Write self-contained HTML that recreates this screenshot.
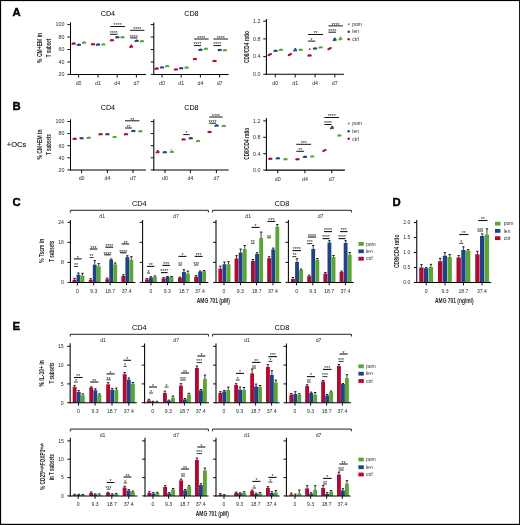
<!DOCTYPE html>
<html lang="en">
<head>
<meta charset="utf-8">
<title>Figure: T-cell subsets with AMG 701, pom, len</title>
<style>
html,body{margin:0;padding:0;background:#fff;}
body{width:520px;height:525px;overflow:hidden;}
svg{display:block;font-family:"Liberation Sans",Arial,Helvetica,sans-serif;}
</style>
</head>
<body>
<svg width="520" height="525" viewBox="0 0 520 525">
<rect x="0" y="0" width="520" height="525" fill="#000"/>
<rect x="1.1" y="1.1" width="518" height="522.7" fill="#fff"/>
<text x="12.4" y="16.3" font-size="11.3" text-anchor="start" fill="#000" font-weight="bold" stroke="#000" stroke-width="0.45">A</text>
<text x="12.6" y="110.3" font-size="11.3" text-anchor="start" fill="#000" font-weight="bold" stroke="#000" stroke-width="0.45">B</text>
<text x="12.6" y="205.9" font-size="11.3" text-anchor="start" fill="#000" font-weight="bold" stroke="#000" stroke-width="0.45">C</text>
<text x="392.6" y="206.4" font-size="11.3" text-anchor="start" fill="#000" font-weight="bold" stroke="#000" stroke-width="0.45">D</text>
<text x="12.6" y="329.7" font-size="11.3" text-anchor="start" fill="#000" font-weight="bold" stroke="#000" stroke-width="0.45">E</text>
<text x="6.8" y="147.2" font-size="7.5" text-anchor="start" fill="#111" stroke="#111" stroke-width="0.12">+OCs</text>
<text x="107.9" y="16.3" font-size="7.2" text-anchor="middle" fill="#000">CD4</text>
<line x1="70.5" y1="22.4" x2="70.5" y2="74.93" stroke="#000" stroke-width="1.05" stroke-linecap="butt"/>
<line x1="69.97" y1="74.4" x2="146" y2="74.4" stroke="#000" stroke-width="1.05" stroke-linecap="butt"/>
<line x1="67.38" y1="24.6" x2="70.5" y2="24.6" stroke="#000" stroke-width="0.95" stroke-linecap="butt"/>
<text x="64.45" y="26.4" font-size="5.3" text-anchor="end" fill="#2b2b2b">100</text>
<line x1="67.38" y1="37.05" x2="70.5" y2="37.05" stroke="#000" stroke-width="0.95" stroke-linecap="butt"/>
<text x="64.45" y="38.85" font-size="5.3" text-anchor="end" fill="#2b2b2b">80</text>
<line x1="67.38" y1="49.5" x2="70.5" y2="49.5" stroke="#000" stroke-width="0.95" stroke-linecap="butt"/>
<text x="64.45" y="51.3" font-size="5.3" text-anchor="end" fill="#2b2b2b">60</text>
<line x1="67.38" y1="61.95" x2="70.5" y2="61.95" stroke="#000" stroke-width="0.95" stroke-linecap="butt"/>
<text x="64.45" y="63.75" font-size="5.3" text-anchor="end" fill="#2b2b2b">40</text>
<line x1="67.38" y1="74.4" x2="70.5" y2="74.4" stroke="#000" stroke-width="0.95" stroke-linecap="butt"/>
<text x="64.45" y="76.2" font-size="5.3" text-anchor="end" fill="#2b2b2b">20</text>
<line x1="78.6" y1="74.4" x2="78.6" y2="77.53" stroke="#000" stroke-width="0.95" stroke-linecap="butt"/>
<text x="78.6" y="84.8" font-size="5.3" text-anchor="middle" fill="#2b2b2b">d0</text>
<line x1="98" y1="74.4" x2="98" y2="77.53" stroke="#000" stroke-width="0.95" stroke-linecap="butt"/>
<text x="98" y="84.8" font-size="5.3" text-anchor="middle" fill="#2b2b2b">d1</text>
<line x1="117.2" y1="74.4" x2="117.2" y2="77.53" stroke="#000" stroke-width="0.95" stroke-linecap="butt"/>
<text x="117.2" y="84.8" font-size="5.3" text-anchor="middle" fill="#2b2b2b">d4</text>
<line x1="136.4" y1="74.4" x2="136.4" y2="77.53" stroke="#000" stroke-width="0.95" stroke-linecap="butt"/>
<text x="136.4" y="84.8" font-size="5.3" text-anchor="middle" fill="#2b2b2b">d7</text>
<circle cx="72.5" cy="43.8" r="1.12" fill="#b00a32"/>
<circle cx="73.6" cy="43.45" r="1.12" fill="#b00a32"/>
<circle cx="74.7" cy="43.7" r="1.12" fill="#b00a32"/>
<circle cx="77.7" cy="45" r="1.12" fill="#204287"/>
<circle cx="78.8" cy="44.65" r="1.12" fill="#204287"/>
<circle cx="79.9" cy="44.9" r="1.12" fill="#204287"/>
<circle cx="82.9" cy="42.8" r="1.12" fill="#59a636"/>
<circle cx="84" cy="42.45" r="1.12" fill="#59a636"/>
<circle cx="85.1" cy="42.7" r="1.12" fill="#59a636"/>
<circle cx="91.9" cy="44.4" r="1.12" fill="#b00a32"/>
<circle cx="93" cy="44.05" r="1.12" fill="#b00a32"/>
<circle cx="94.1" cy="44.3" r="1.12" fill="#b00a32"/>
<circle cx="96.9" cy="44.8" r="1.12" fill="#204287"/>
<circle cx="98" cy="44.45" r="1.12" fill="#204287"/>
<circle cx="99.1" cy="44.7" r="1.12" fill="#204287"/>
<circle cx="102.3" cy="44.6" r="1.12" fill="#59a636"/>
<circle cx="103.4" cy="44.25" r="1.12" fill="#59a636"/>
<circle cx="104.5" cy="44.5" r="1.12" fill="#59a636"/>
<circle cx="110.9" cy="40.4" r="1.12" fill="#b00a32"/>
<circle cx="112" cy="40.05" r="1.12" fill="#b00a32"/>
<circle cx="113.1" cy="40.3" r="1.12" fill="#b00a32"/>
<circle cx="116.3" cy="37.4" r="1.12" fill="#204287"/>
<circle cx="117.4" cy="37.05" r="1.12" fill="#204287"/>
<circle cx="118.5" cy="37.3" r="1.12" fill="#204287"/>
<circle cx="121.5" cy="37.4" r="1.12" fill="#59a636"/>
<circle cx="122.6" cy="37.05" r="1.12" fill="#59a636"/>
<circle cx="123.7" cy="37.3" r="1.12" fill="#59a636"/>
<circle cx="130.3" cy="47.1" r="1.12" fill="#b00a32"/>
<circle cx="131.3" cy="45.6" r="1.12" fill="#b00a32"/>
<circle cx="132.1" cy="46.8" r="1.12" fill="#b00a32"/>
<circle cx="135.5" cy="41" r="1.12" fill="#204287"/>
<circle cx="136.6" cy="40.65" r="1.12" fill="#204287"/>
<circle cx="137.7" cy="40.9" r="1.12" fill="#204287"/>
<circle cx="140.9" cy="41.4" r="1.12" fill="#59a636"/>
<circle cx="142" cy="41.05" r="1.12" fill="#59a636"/>
<circle cx="143.1" cy="41.3" r="1.12" fill="#59a636"/>
<line x1="110" y1="34.3" x2="117.5" y2="34.3" stroke="#161616" stroke-width="1" stroke-linecap="butt"/>
<text x="113.75" y="35.15" font-size="5.2" text-anchor="middle" fill="#222">****</text>
<line x1="110.3" y1="26.5" x2="125" y2="26.5" stroke="#161616" stroke-width="1" stroke-linecap="butt"/>
<text x="117.65" y="27.35" font-size="5.2" text-anchor="middle" fill="#222">****</text>
<line x1="130.1" y1="37.9" x2="137.4" y2="37.9" stroke="#161616" stroke-width="1" stroke-linecap="butt"/>
<text x="133.75" y="38.75" font-size="5.2" text-anchor="middle" fill="#222">****</text>
<line x1="130.1" y1="30.3" x2="144.4" y2="30.3" stroke="#161616" stroke-width="1" stroke-linecap="butt"/>
<text x="137.25" y="31.15" font-size="5.2" text-anchor="middle" fill="#222">****</text>
<text transform="translate(41.6 47.9) rotate(-90)" x="0" y="0" font-size="6.4" text-anchor="middle" fill="#262626" font-weight="bold" textLength="30" lengthAdjust="spacingAndGlyphs">% CM+EM in</text>
<text transform="translate(50.9 47.9) rotate(-90)" x="0" y="0" font-size="6.4" text-anchor="middle" fill="#262626" font-weight="bold" textLength="18.5" lengthAdjust="spacingAndGlyphs">T subset</text>
<text x="191.4" y="16.3" font-size="7.2" text-anchor="middle" fill="#000">CD8</text>
<line x1="153.8" y1="22.4" x2="153.8" y2="74.93" stroke="#000" stroke-width="1.05" stroke-linecap="butt"/>
<line x1="153.28" y1="74.4" x2="228.6" y2="74.4" stroke="#000" stroke-width="1.05" stroke-linecap="butt"/>
<line x1="150.68" y1="24.6" x2="153.8" y2="24.6" stroke="#000" stroke-width="0.95" stroke-linecap="butt"/>
<line x1="150.68" y1="37.05" x2="153.8" y2="37.05" stroke="#000" stroke-width="0.95" stroke-linecap="butt"/>
<line x1="150.68" y1="49.5" x2="153.8" y2="49.5" stroke="#000" stroke-width="0.95" stroke-linecap="butt"/>
<line x1="150.68" y1="61.95" x2="153.8" y2="61.95" stroke="#000" stroke-width="0.95" stroke-linecap="butt"/>
<line x1="150.68" y1="74.4" x2="153.8" y2="74.4" stroke="#000" stroke-width="0.95" stroke-linecap="butt"/>
<line x1="162" y1="74.4" x2="162" y2="77.53" stroke="#000" stroke-width="0.95" stroke-linecap="butt"/>
<text x="162" y="84.8" font-size="5.3" text-anchor="middle" fill="#2b2b2b">d0</text>
<line x1="181.2" y1="74.4" x2="181.2" y2="77.53" stroke="#000" stroke-width="0.95" stroke-linecap="butt"/>
<text x="181.2" y="84.8" font-size="5.3" text-anchor="middle" fill="#2b2b2b">d1</text>
<line x1="200.4" y1="74.4" x2="200.4" y2="77.53" stroke="#000" stroke-width="0.95" stroke-linecap="butt"/>
<text x="200.4" y="84.8" font-size="5.3" text-anchor="middle" fill="#2b2b2b">d4</text>
<line x1="219.6" y1="74.4" x2="219.6" y2="77.53" stroke="#000" stroke-width="0.95" stroke-linecap="butt"/>
<text x="219.6" y="84.8" font-size="5.3" text-anchor="middle" fill="#2b2b2b">d7</text>
<circle cx="155.5" cy="68.8" r="1.12" fill="#b00a32"/>
<circle cx="156.6" cy="68.45" r="1.12" fill="#b00a32"/>
<circle cx="157.7" cy="68.7" r="1.12" fill="#b00a32"/>
<circle cx="160.9" cy="67.6" r="1.12" fill="#204287"/>
<circle cx="162" cy="67.25" r="1.12" fill="#204287"/>
<circle cx="163.1" cy="67.5" r="1.12" fill="#204287"/>
<circle cx="166.1" cy="66.4" r="1.12" fill="#59a636"/>
<circle cx="167.2" cy="66.05" r="1.12" fill="#59a636"/>
<circle cx="168.3" cy="66.3" r="1.12" fill="#59a636"/>
<circle cx="174.9" cy="69.6" r="1.12" fill="#b00a32"/>
<circle cx="176" cy="69.25" r="1.12" fill="#b00a32"/>
<circle cx="177.1" cy="69.5" r="1.12" fill="#b00a32"/>
<circle cx="180.1" cy="68.4" r="1.12" fill="#204287"/>
<circle cx="181.2" cy="68.05" r="1.12" fill="#204287"/>
<circle cx="182.3" cy="68.3" r="1.12" fill="#204287"/>
<circle cx="185.5" cy="67.8" r="1.12" fill="#59a636"/>
<circle cx="186.6" cy="67.45" r="1.12" fill="#59a636"/>
<circle cx="187.7" cy="67.7" r="1.12" fill="#59a636"/>
<circle cx="193.9" cy="59.2" r="1.12" fill="#b00a32"/>
<circle cx="195" cy="58.85" r="1.12" fill="#b00a32"/>
<circle cx="196.1" cy="59.1" r="1.12" fill="#b00a32"/>
<circle cx="199.3" cy="50" r="1.12" fill="#204287"/>
<circle cx="200.4" cy="49.65" r="1.12" fill="#204287"/>
<circle cx="201.5" cy="49.9" r="1.12" fill="#204287"/>
<circle cx="204.7" cy="49" r="1.12" fill="#59a636"/>
<circle cx="205.8" cy="48.65" r="1.12" fill="#59a636"/>
<circle cx="206.9" cy="48.9" r="1.12" fill="#59a636"/>
<circle cx="213.5" cy="61.2" r="1.12" fill="#b00a32"/>
<circle cx="214.6" cy="60.85" r="1.12" fill="#b00a32"/>
<circle cx="215.7" cy="61.1" r="1.12" fill="#b00a32"/>
<circle cx="218.7" cy="50.2" r="1.12" fill="#204287"/>
<circle cx="219.8" cy="49.85" r="1.12" fill="#204287"/>
<circle cx="220.9" cy="50.1" r="1.12" fill="#204287"/>
<circle cx="223.9" cy="50.4" r="1.12" fill="#59a636"/>
<circle cx="225" cy="50.05" r="1.12" fill="#59a636"/>
<circle cx="226.1" cy="50.3" r="1.12" fill="#59a636"/>
<line x1="194" y1="45.6" x2="201" y2="45.6" stroke="#161616" stroke-width="1" stroke-linecap="butt"/>
<text x="197.5" y="46.45" font-size="5.2" text-anchor="middle" fill="#222">****</text>
<line x1="194" y1="39" x2="208.6" y2="39" stroke="#161616" stroke-width="1" stroke-linecap="butt"/>
<text x="201.3" y="39.85" font-size="5.2" text-anchor="middle" fill="#222">****</text>
<line x1="213.4" y1="45.6" x2="221" y2="45.6" stroke="#161616" stroke-width="1" stroke-linecap="butt"/>
<text x="217.2" y="46.45" font-size="5.2" text-anchor="middle" fill="#222">****</text>
<line x1="213.4" y1="39" x2="228" y2="39" stroke="#161616" stroke-width="1" stroke-linecap="butt"/>
<text x="220.7" y="39.85" font-size="5.2" text-anchor="middle" fill="#222">****</text>
<text transform="translate(249.3 47) rotate(-90)" x="0" y="0" font-size="6.4" text-anchor="middle" fill="#262626" font-weight="bold" textLength="32" lengthAdjust="spacingAndGlyphs">CD8/CD4 ratio</text>
<line x1="266.4" y1="18.9" x2="266.4" y2="74.83" stroke="#000" stroke-width="1.05" stroke-linecap="butt"/>
<line x1="265.88" y1="74.3" x2="344" y2="74.3" stroke="#000" stroke-width="1.05" stroke-linecap="butt"/>
<line x1="263.27" y1="21.2" x2="266.4" y2="21.2" stroke="#000" stroke-width="0.95" stroke-linecap="butt"/>
<text x="260.35" y="23" font-size="5.3" text-anchor="end" fill="#2b2b2b">1.2</text>
<line x1="263.27" y1="38.9" x2="266.4" y2="38.9" stroke="#000" stroke-width="0.95" stroke-linecap="butt"/>
<text x="260.35" y="40.7" font-size="5.3" text-anchor="end" fill="#2b2b2b">0.8</text>
<line x1="263.27" y1="56.6" x2="266.4" y2="56.6" stroke="#000" stroke-width="0.95" stroke-linecap="butt"/>
<text x="260.35" y="58.4" font-size="5.3" text-anchor="end" fill="#2b2b2b">0.4</text>
<line x1="263.27" y1="74.3" x2="266.4" y2="74.3" stroke="#000" stroke-width="0.95" stroke-linecap="butt"/>
<text x="260.35" y="76.1" font-size="5.3" text-anchor="end" fill="#2b2b2b">0.0</text>
<line x1="275.3" y1="74.3" x2="275.3" y2="77.42" stroke="#000" stroke-width="0.95" stroke-linecap="butt"/>
<text x="275.3" y="84.7" font-size="5.3" text-anchor="middle" fill="#2b2b2b">d0</text>
<line x1="295.2" y1="74.3" x2="295.2" y2="77.42" stroke="#000" stroke-width="0.95" stroke-linecap="butt"/>
<text x="295.2" y="84.7" font-size="5.3" text-anchor="middle" fill="#2b2b2b">d1</text>
<line x1="315.1" y1="74.3" x2="315.1" y2="77.42" stroke="#000" stroke-width="0.95" stroke-linecap="butt"/>
<text x="315.1" y="84.7" font-size="5.3" text-anchor="middle" fill="#2b2b2b">d4</text>
<line x1="334.8" y1="74.3" x2="334.8" y2="77.42" stroke="#000" stroke-width="0.95" stroke-linecap="butt"/>
<text x="334.8" y="84.7" font-size="5.3" text-anchor="middle" fill="#2b2b2b">d7</text>
<circle cx="268.7" cy="55.15" r="1.12" fill="#b00a32"/>
<circle cx="269.8" cy="54.6" r="1.12" fill="#b00a32"/>
<circle cx="270.9" cy="54.05" r="1.12" fill="#b00a32"/>
<circle cx="274.4" cy="51" r="1.12" fill="#204287"/>
<circle cx="275.5" cy="50.65" r="1.12" fill="#204287"/>
<circle cx="276.6" cy="50.9" r="1.12" fill="#204287"/>
<circle cx="279.7" cy="50" r="1.12" fill="#59a636"/>
<circle cx="280.8" cy="49.65" r="1.12" fill="#59a636"/>
<circle cx="281.9" cy="49.9" r="1.12" fill="#59a636"/>
<circle cx="288.8" cy="55.15" r="1.12" fill="#b00a32"/>
<circle cx="289.9" cy="54.6" r="1.12" fill="#b00a32"/>
<circle cx="291" cy="54.05" r="1.12" fill="#b00a32"/>
<circle cx="294.3" cy="50.6" r="1.12" fill="#204287"/>
<circle cx="295.3" cy="49.1" r="1.12" fill="#204287"/>
<circle cx="296.1" cy="50.3" r="1.12" fill="#204287"/>
<circle cx="299.6" cy="50" r="1.12" fill="#59a636"/>
<circle cx="300.7" cy="49.65" r="1.12" fill="#59a636"/>
<circle cx="301.8" cy="49.9" r="1.12" fill="#59a636"/>
<circle cx="308.5" cy="55.7" r="1.12" fill="#b00a32"/>
<circle cx="309.6" cy="55.35" r="1.12" fill="#b00a32"/>
<circle cx="310.7" cy="55.6" r="1.12" fill="#b00a32"/>
<circle cx="314" cy="48.7" r="1.12" fill="#204287"/>
<circle cx="315.1" cy="48.35" r="1.12" fill="#204287"/>
<circle cx="316.2" cy="48.6" r="1.12" fill="#204287"/>
<circle cx="319.5" cy="47.6" r="1.12" fill="#59a636"/>
<circle cx="320.6" cy="47.25" r="1.12" fill="#59a636"/>
<circle cx="321.7" cy="47.5" r="1.12" fill="#59a636"/>
<circle cx="328.4" cy="49.25" r="1.12" fill="#b00a32"/>
<circle cx="329.5" cy="48.7" r="1.12" fill="#b00a32"/>
<circle cx="330.6" cy="48.15" r="1.12" fill="#b00a32"/>
<circle cx="333.8" cy="40.2" r="1.12" fill="#204287"/>
<circle cx="334.8" cy="38.7" r="1.12" fill="#204287"/>
<circle cx="335.6" cy="39.9" r="1.12" fill="#204287"/>
<circle cx="339.5" cy="39.4" r="1.12" fill="#59a636"/>
<circle cx="340.5" cy="37.9" r="1.12" fill="#59a636"/>
<circle cx="341.3" cy="39.1" r="1.12" fill="#59a636"/>
<circle cx="309.8" cy="49.1" r="0.9" fill="#b00a32"/>
<line x1="307.9" y1="41.1" x2="315.3" y2="41.1" stroke="#161616" stroke-width="1" stroke-linecap="butt"/>
<text x="311.6" y="41.95" font-size="5.2" text-anchor="middle" fill="#222">*</text>
<line x1="307.9" y1="34.5" x2="323.1" y2="34.5" stroke="#161616" stroke-width="1" stroke-linecap="butt"/>
<text x="315.5" y="35.35" font-size="5.2" text-anchor="middle" fill="#222">**</text>
<line x1="328.4" y1="32.2" x2="336" y2="32.2" stroke="#161616" stroke-width="1" stroke-linecap="butt"/>
<text x="332.2" y="33.05" font-size="5.2" text-anchor="middle" fill="#222">****</text>
<line x1="328.4" y1="25.9" x2="342.8" y2="25.9" stroke="#161616" stroke-width="1" stroke-linecap="butt"/>
<text x="335.6" y="26.75" font-size="5.2" text-anchor="middle" fill="#222">****</text>
<circle cx="348.7" cy="24.2" r="1" fill="#59a636"/>
<text x="352.3" y="25.9" font-size="5" text-anchor="start" fill="#2b2b2b">pom</text>
<circle cx="348.7" cy="31.7" r="1.25" fill="#204287"/>
<text x="352.3" y="33.4" font-size="5" text-anchor="start" fill="#2b2b2b">len</text>
<circle cx="348.7" cy="39.3" r="1.25" fill="#b00a32"/>
<text x="352.3" y="41" font-size="5" text-anchor="start" fill="#2b2b2b">ctrl</text>
<text x="107.9" y="110.1" font-size="7.2" text-anchor="middle" fill="#000">CD4</text>
<line x1="70.5" y1="119.3" x2="70.5" y2="170.43" stroke="#000" stroke-width="1.05" stroke-linecap="butt"/>
<line x1="69.97" y1="169.9" x2="146" y2="169.9" stroke="#000" stroke-width="1.05" stroke-linecap="butt"/>
<line x1="67.38" y1="121.5" x2="70.5" y2="121.5" stroke="#000" stroke-width="0.95" stroke-linecap="butt"/>
<text x="64.45" y="123.3" font-size="5.3" text-anchor="end" fill="#2b2b2b">100</text>
<line x1="67.38" y1="133.6" x2="70.5" y2="133.6" stroke="#000" stroke-width="0.95" stroke-linecap="butt"/>
<text x="64.45" y="135.4" font-size="5.3" text-anchor="end" fill="#2b2b2b">80</text>
<line x1="67.38" y1="145.7" x2="70.5" y2="145.7" stroke="#000" stroke-width="0.95" stroke-linecap="butt"/>
<text x="64.45" y="147.5" font-size="5.3" text-anchor="end" fill="#2b2b2b">60</text>
<line x1="67.38" y1="157.8" x2="70.5" y2="157.8" stroke="#000" stroke-width="0.95" stroke-linecap="butt"/>
<text x="64.45" y="159.6" font-size="5.3" text-anchor="end" fill="#2b2b2b">40</text>
<line x1="67.38" y1="169.9" x2="70.5" y2="169.9" stroke="#000" stroke-width="0.95" stroke-linecap="butt"/>
<text x="64.45" y="171.7" font-size="5.3" text-anchor="end" fill="#2b2b2b">20</text>
<line x1="81.6" y1="169.9" x2="81.6" y2="173.03" stroke="#000" stroke-width="0.95" stroke-linecap="butt"/>
<text x="81.6" y="180.3" font-size="5.3" text-anchor="middle" fill="#2b2b2b">d0</text>
<line x1="107.4" y1="169.9" x2="107.4" y2="173.03" stroke="#000" stroke-width="0.95" stroke-linecap="butt"/>
<text x="107.4" y="180.3" font-size="5.3" text-anchor="middle" fill="#2b2b2b">d4</text>
<line x1="133" y1="169.9" x2="133" y2="173.03" stroke="#000" stroke-width="0.95" stroke-linecap="butt"/>
<text x="133" y="180.3" font-size="5.3" text-anchor="middle" fill="#2b2b2b">d7</text>
<circle cx="73.5" cy="139" r="1.12" fill="#b00a32"/>
<circle cx="74.6" cy="138.65" r="1.12" fill="#b00a32"/>
<circle cx="75.7" cy="138.9" r="1.12" fill="#b00a32"/>
<circle cx="80.5" cy="138.4" r="1.12" fill="#204287"/>
<circle cx="81.6" cy="138.05" r="1.12" fill="#204287"/>
<circle cx="82.7" cy="138.3" r="1.12" fill="#204287"/>
<circle cx="87.5" cy="138" r="1.12" fill="#59a636"/>
<circle cx="88.6" cy="137.65" r="1.12" fill="#59a636"/>
<circle cx="89.7" cy="137.9" r="1.12" fill="#59a636"/>
<circle cx="99.5" cy="134.4" r="1.12" fill="#b00a32"/>
<circle cx="100.6" cy="134.05" r="1.12" fill="#b00a32"/>
<circle cx="101.7" cy="134.3" r="1.12" fill="#b00a32"/>
<circle cx="106.3" cy="134.4" r="1.12" fill="#204287"/>
<circle cx="107.4" cy="134.05" r="1.12" fill="#204287"/>
<circle cx="108.5" cy="134.3" r="1.12" fill="#204287"/>
<circle cx="113.5" cy="137.2" r="1.12" fill="#59a636"/>
<circle cx="114.6" cy="136.85" r="1.12" fill="#59a636"/>
<circle cx="115.7" cy="137.1" r="1.12" fill="#59a636"/>
<circle cx="124.9" cy="134.4" r="1.12" fill="#b00a32"/>
<circle cx="126" cy="134.05" r="1.12" fill="#b00a32"/>
<circle cx="127.1" cy="134.3" r="1.12" fill="#b00a32"/>
<circle cx="132.3" cy="131.2" r="1.12" fill="#204287"/>
<circle cx="133.4" cy="130.85" r="1.12" fill="#204287"/>
<circle cx="134.5" cy="131.1" r="1.12" fill="#204287"/>
<circle cx="139.3" cy="131.4" r="1.12" fill="#59a636"/>
<circle cx="140.4" cy="131.05" r="1.12" fill="#59a636"/>
<circle cx="141.5" cy="131.3" r="1.12" fill="#59a636"/>
<line x1="125" y1="128" x2="132" y2="128" stroke="#161616" stroke-width="1" stroke-linecap="butt"/>
<text x="128.5" y="128.85" font-size="5.2" text-anchor="middle" fill="#222">**</text>
<line x1="125" y1="120.8" x2="139.4" y2="120.8" stroke="#161616" stroke-width="1" stroke-linecap="butt"/>
<text x="132.2" y="121.65" font-size="5.2" text-anchor="middle" fill="#222">**</text>
<text transform="translate(42.3 144.5) rotate(-90)" x="0" y="0" font-size="6.4" text-anchor="middle" fill="#262626" font-weight="bold" textLength="30" lengthAdjust="spacingAndGlyphs">% CM+EM in</text>
<text transform="translate(51.3 144.5) rotate(-90)" x="0" y="0" font-size="6.4" text-anchor="middle" fill="#262626" font-weight="bold" textLength="21" lengthAdjust="spacingAndGlyphs">T subsets</text>
<text x="191.4" y="110.1" font-size="7.2" text-anchor="middle" fill="#000">CD8</text>
<line x1="153.8" y1="119.3" x2="153.8" y2="170.43" stroke="#000" stroke-width="1.05" stroke-linecap="butt"/>
<line x1="153.28" y1="169.9" x2="228.6" y2="169.9" stroke="#000" stroke-width="1.05" stroke-linecap="butt"/>
<line x1="150.68" y1="121.5" x2="153.8" y2="121.5" stroke="#000" stroke-width="0.95" stroke-linecap="butt"/>
<line x1="150.68" y1="133.6" x2="153.8" y2="133.6" stroke="#000" stroke-width="0.95" stroke-linecap="butt"/>
<line x1="150.68" y1="145.7" x2="153.8" y2="145.7" stroke="#000" stroke-width="0.95" stroke-linecap="butt"/>
<line x1="150.68" y1="157.8" x2="153.8" y2="157.8" stroke="#000" stroke-width="0.95" stroke-linecap="butt"/>
<line x1="150.68" y1="169.9" x2="153.8" y2="169.9" stroke="#000" stroke-width="0.95" stroke-linecap="butt"/>
<line x1="165" y1="169.9" x2="165" y2="173.03" stroke="#000" stroke-width="0.95" stroke-linecap="butt"/>
<text x="165" y="180.3" font-size="5.3" text-anchor="middle" fill="#2b2b2b">d0</text>
<line x1="190.4" y1="169.9" x2="190.4" y2="173.03" stroke="#000" stroke-width="0.95" stroke-linecap="butt"/>
<text x="190.4" y="180.3" font-size="5.3" text-anchor="middle" fill="#2b2b2b">d4</text>
<line x1="216.4" y1="169.9" x2="216.4" y2="173.03" stroke="#000" stroke-width="0.95" stroke-linecap="butt"/>
<text x="216.4" y="180.3" font-size="5.3" text-anchor="middle" fill="#2b2b2b">d7</text>
<circle cx="156.7" cy="152.5" r="1.12" fill="#b00a32"/>
<circle cx="157.7" cy="151" r="1.12" fill="#b00a32"/>
<circle cx="158.5" cy="152.2" r="1.12" fill="#b00a32"/>
<circle cx="163.7" cy="152.4" r="1.12" fill="#204287"/>
<circle cx="164.8" cy="152.05" r="1.12" fill="#204287"/>
<circle cx="165.9" cy="152.3" r="1.12" fill="#204287"/>
<circle cx="170.7" cy="152" r="1.12" fill="#59a636"/>
<circle cx="171.8" cy="151.65" r="1.12" fill="#59a636"/>
<circle cx="172.9" cy="151.9" r="1.12" fill="#59a636"/>
<circle cx="182.5" cy="139.6" r="1.12" fill="#b00a32"/>
<circle cx="183.6" cy="139.25" r="1.12" fill="#b00a32"/>
<circle cx="184.7" cy="139.5" r="1.12" fill="#b00a32"/>
<circle cx="189.7" cy="138.4" r="1.12" fill="#204287"/>
<circle cx="190.8" cy="138.05" r="1.12" fill="#204287"/>
<circle cx="191.9" cy="138.3" r="1.12" fill="#204287"/>
<circle cx="196.9" cy="141.2" r="1.12" fill="#59a636"/>
<circle cx="198" cy="140.85" r="1.12" fill="#59a636"/>
<circle cx="199.1" cy="141.1" r="1.12" fill="#59a636"/>
<circle cx="208.5" cy="132.2" r="1.12" fill="#b00a32"/>
<circle cx="209.6" cy="131.85" r="1.12" fill="#b00a32"/>
<circle cx="210.7" cy="132.1" r="1.12" fill="#b00a32"/>
<circle cx="215.5" cy="125.8" r="1.12" fill="#204287"/>
<circle cx="216.6" cy="125.45" r="1.12" fill="#204287"/>
<circle cx="217.7" cy="125.7" r="1.12" fill="#204287"/>
<circle cx="222.7" cy="126.2" r="1.12" fill="#59a636"/>
<circle cx="223.8" cy="125.85" r="1.12" fill="#59a636"/>
<circle cx="224.9" cy="126.1" r="1.12" fill="#59a636"/>
<circle cx="171.2" cy="149.6" r="0.7" fill="#59a636"/>
<line x1="183.2" y1="134.6" x2="189.6" y2="134.6" stroke="#161616" stroke-width="1" stroke-linecap="butt"/>
<text x="186.4" y="135.45" font-size="5.2" text-anchor="middle" fill="#222">*</text>
<line x1="209.2" y1="123.2" x2="216" y2="123.2" stroke="#161616" stroke-width="1" stroke-linecap="butt"/>
<text x="212.6" y="124.05" font-size="5.2" text-anchor="middle" fill="#222">****</text>
<line x1="209.2" y1="117" x2="222.6" y2="117" stroke="#161616" stroke-width="1" stroke-linecap="butt"/>
<text x="215.9" y="117.85" font-size="5.2" text-anchor="middle" fill="#222">****</text>
<text transform="translate(249.3 143.8) rotate(-90)" x="0" y="0" font-size="6.4" text-anchor="middle" fill="#262626" font-weight="bold" textLength="32" lengthAdjust="spacingAndGlyphs">CD8/CD4 ratio</text>
<line x1="266.4" y1="118.1" x2="266.4" y2="170.62" stroke="#000" stroke-width="1.05" stroke-linecap="butt"/>
<line x1="265.88" y1="170.1" x2="344.9" y2="170.1" stroke="#000" stroke-width="1.05" stroke-linecap="butt"/>
<line x1="263.27" y1="120.9" x2="266.4" y2="120.9" stroke="#000" stroke-width="0.95" stroke-linecap="butt"/>
<text x="260.35" y="122.7" font-size="5.3" text-anchor="end" fill="#2b2b2b">1.2</text>
<line x1="263.27" y1="137.3" x2="266.4" y2="137.3" stroke="#000" stroke-width="0.95" stroke-linecap="butt"/>
<text x="260.35" y="139.1" font-size="5.3" text-anchor="end" fill="#2b2b2b">0.8</text>
<line x1="263.27" y1="153.7" x2="266.4" y2="153.7" stroke="#000" stroke-width="0.95" stroke-linecap="butt"/>
<text x="260.35" y="155.5" font-size="5.3" text-anchor="end" fill="#2b2b2b">0.4</text>
<line x1="263.27" y1="170.1" x2="266.4" y2="170.1" stroke="#000" stroke-width="0.95" stroke-linecap="butt"/>
<text x="260.35" y="171.9" font-size="5.3" text-anchor="end" fill="#2b2b2b">0.0</text>
<line x1="277.8" y1="170.1" x2="277.8" y2="173.22" stroke="#000" stroke-width="0.95" stroke-linecap="butt"/>
<text x="277.8" y="180.5" font-size="5.3" text-anchor="middle" fill="#2b2b2b">d0</text>
<line x1="304.9" y1="170.1" x2="304.9" y2="173.22" stroke="#000" stroke-width="0.95" stroke-linecap="butt"/>
<text x="304.9" y="180.5" font-size="5.3" text-anchor="middle" fill="#2b2b2b">d4</text>
<line x1="331.8" y1="170.1" x2="331.8" y2="173.22" stroke="#000" stroke-width="0.95" stroke-linecap="butt"/>
<text x="331.8" y="180.5" font-size="5.3" text-anchor="middle" fill="#2b2b2b">d7</text>
<circle cx="269.3" cy="158.9" r="1.12" fill="#b00a32"/>
<circle cx="270.4" cy="158.55" r="1.12" fill="#b00a32"/>
<circle cx="271.5" cy="158.8" r="1.12" fill="#b00a32"/>
<circle cx="276.7" cy="158.5" r="1.12" fill="#204287"/>
<circle cx="277.8" cy="158.15" r="1.12" fill="#204287"/>
<circle cx="278.9" cy="158.4" r="1.12" fill="#204287"/>
<circle cx="284.4" cy="159.4" r="1.12" fill="#59a636"/>
<circle cx="285.5" cy="159.05" r="1.12" fill="#59a636"/>
<circle cx="286.6" cy="159.3" r="1.12" fill="#59a636"/>
<circle cx="296.4" cy="159.4" r="1.12" fill="#b00a32"/>
<circle cx="297.5" cy="159.05" r="1.12" fill="#b00a32"/>
<circle cx="298.6" cy="159.3" r="1.12" fill="#b00a32"/>
<circle cx="303.8" cy="157" r="1.12" fill="#204287"/>
<circle cx="304.9" cy="156.65" r="1.12" fill="#204287"/>
<circle cx="306" cy="156.9" r="1.12" fill="#204287"/>
<circle cx="311.2" cy="156.6" r="1.12" fill="#59a636"/>
<circle cx="312.3" cy="156.25" r="1.12" fill="#59a636"/>
<circle cx="313.4" cy="156.5" r="1.12" fill="#59a636"/>
<circle cx="323.3" cy="151.05" r="1.12" fill="#b00a32"/>
<circle cx="324.4" cy="150.5" r="1.12" fill="#b00a32"/>
<circle cx="325.5" cy="149.95" r="1.12" fill="#b00a32"/>
<circle cx="331.1" cy="128.3" r="1.12" fill="#204287"/>
<circle cx="332.1" cy="126.8" r="1.12" fill="#204287"/>
<circle cx="332.9" cy="128" r="1.12" fill="#204287"/>
<circle cx="338.3" cy="135.7" r="1.12" fill="#59a636"/>
<circle cx="339.4" cy="135.35" r="1.12" fill="#59a636"/>
<circle cx="340.5" cy="135.6" r="1.12" fill="#59a636"/>
<line x1="296.3" y1="151.3" x2="304.1" y2="151.3" stroke="#161616" stroke-width="1" stroke-linecap="butt"/>
<text x="300.2" y="152.15" font-size="5.2" text-anchor="middle" fill="#222">**</text>
<line x1="296.3" y1="144.3" x2="311.1" y2="144.3" stroke="#161616" stroke-width="1" stroke-linecap="butt"/>
<text x="303.7" y="145.15" font-size="5.2" text-anchor="middle" fill="#222">***</text>
<line x1="324.4" y1="124.5" x2="331.6" y2="124.5" stroke="#161616" stroke-width="1" stroke-linecap="butt"/>
<text x="328" y="125.35" font-size="5.2" text-anchor="middle" fill="#222">****</text>
<line x1="324.4" y1="117.5" x2="339" y2="117.5" stroke="#161616" stroke-width="1" stroke-linecap="butt"/>
<text x="331.7" y="118.35" font-size="5.2" text-anchor="middle" fill="#222">****</text>
<circle cx="348.7" cy="123.4" r="1" fill="#59a636"/>
<text x="352.3" y="125.1" font-size="5" text-anchor="start" fill="#2b2b2b">pom</text>
<circle cx="348.7" cy="131.2" r="1.25" fill="#204287"/>
<text x="352.3" y="132.9" font-size="5" text-anchor="start" fill="#2b2b2b">len</text>
<circle cx="348.7" cy="138.8" r="1.25" fill="#b00a32"/>
<text x="352.3" y="140.5" font-size="5" text-anchor="start" fill="#2b2b2b">ctrl</text>
<text x="139.3" y="206" font-size="7.4" text-anchor="middle" fill="#000">CD4</text>
<text x="282" y="206" font-size="7.4" text-anchor="middle" fill="#000">CD8</text>
<path d="M70.3 212.5V210.3H208.4V212.5" fill="none" stroke="#222" stroke-width="1"/>
<path d="M212.6 212.5V210.3H351.4V212.5" fill="none" stroke="#222" stroke-width="1"/>
<line x1="74.42" y1="278.3" x2="74.42" y2="280" stroke="#111" stroke-width="0.8" stroke-linecap="butt"/>
<line x1="73.22" y1="278.4" x2="75.62" y2="278.4" stroke="#111" stroke-width="0.95" stroke-linecap="butt"/>
<rect x="72.5" y="279.8" width="3.85" height="2.6" fill="#b00a32"/>
<line x1="78.42" y1="272.9" x2="78.42" y2="274.9" stroke="#111" stroke-width="0.8" stroke-linecap="butt"/>
<line x1="77.22" y1="273" x2="79.62" y2="273" stroke="#111" stroke-width="0.95" stroke-linecap="butt"/>
<rect x="76.5" y="274.7" width="3.85" height="7.7" fill="#204287"/>
<line x1="82.42" y1="273.2" x2="82.42" y2="275.8" stroke="#111" stroke-width="0.8" stroke-linecap="butt"/>
<line x1="81.22" y1="273.3" x2="83.62" y2="273.3" stroke="#111" stroke-width="0.95" stroke-linecap="butt"/>
<rect x="80.5" y="275.6" width="3.85" height="6.8" fill="#59a636"/>
<line x1="90.72" y1="278.6" x2="90.72" y2="280" stroke="#111" stroke-width="0.8" stroke-linecap="butt"/>
<line x1="89.52" y1="278.7" x2="91.92" y2="278.7" stroke="#111" stroke-width="0.95" stroke-linecap="butt"/>
<rect x="88.8" y="279.8" width="3.85" height="2.6" fill="#b00a32"/>
<line x1="94.72" y1="260.6" x2="94.72" y2="264.9" stroke="#111" stroke-width="0.8" stroke-linecap="butt"/>
<line x1="93.52" y1="260.7" x2="95.92" y2="260.7" stroke="#111" stroke-width="0.95" stroke-linecap="butt"/>
<rect x="92.8" y="264.7" width="3.85" height="17.7" fill="#204287"/>
<line x1="98.72" y1="263.5" x2="98.72" y2="266.4" stroke="#111" stroke-width="0.8" stroke-linecap="butt"/>
<line x1="97.52" y1="263.6" x2="99.92" y2="263.6" stroke="#111" stroke-width="0.95" stroke-linecap="butt"/>
<rect x="96.8" y="266.2" width="3.85" height="16.2" fill="#59a636"/>
<line x1="107.22" y1="278" x2="107.22" y2="279.4" stroke="#111" stroke-width="0.8" stroke-linecap="butt"/>
<line x1="106.02" y1="278.1" x2="108.42" y2="278.1" stroke="#111" stroke-width="0.95" stroke-linecap="butt"/>
<rect x="105.3" y="279.2" width="3.85" height="3.2" fill="#b00a32"/>
<line x1="111.22" y1="258.9" x2="111.22" y2="260" stroke="#111" stroke-width="0.8" stroke-linecap="butt"/>
<line x1="110.02" y1="259" x2="112.42" y2="259" stroke="#111" stroke-width="0.95" stroke-linecap="butt"/>
<rect x="109.3" y="259.8" width="3.85" height="22.6" fill="#204287"/>
<line x1="115.22" y1="262.9" x2="115.22" y2="264.6" stroke="#111" stroke-width="0.8" stroke-linecap="butt"/>
<line x1="114.02" y1="263" x2="116.42" y2="263" stroke="#111" stroke-width="0.95" stroke-linecap="butt"/>
<rect x="113.3" y="264.4" width="3.85" height="18" fill="#59a636"/>
<line x1="123.33" y1="274.7" x2="123.33" y2="276.2" stroke="#111" stroke-width="0.8" stroke-linecap="butt"/>
<line x1="122.12" y1="274.8" x2="124.53" y2="274.8" stroke="#111" stroke-width="0.95" stroke-linecap="butt"/>
<rect x="121.4" y="276" width="3.85" height="6.4" fill="#b00a32"/>
<line x1="127.33" y1="255.7" x2="127.33" y2="257.3" stroke="#111" stroke-width="0.8" stroke-linecap="butt"/>
<line x1="126.12" y1="255.8" x2="128.53" y2="255.8" stroke="#111" stroke-width="0.95" stroke-linecap="butt"/>
<rect x="125.4" y="257.1" width="3.85" height="25.3" fill="#204287"/>
<line x1="131.33" y1="256.6" x2="131.33" y2="260" stroke="#111" stroke-width="0.8" stroke-linecap="butt"/>
<line x1="130.13" y1="256.7" x2="132.53" y2="256.7" stroke="#111" stroke-width="0.95" stroke-linecap="butt"/>
<rect x="129.4" y="259.8" width="3.85" height="22.6" fill="#59a636"/>
<line x1="70.4" y1="220" x2="70.4" y2="282.92" stroke="#000" stroke-width="1.05" stroke-linecap="butt"/>
<line x1="69.88" y1="282.4" x2="135.3" y2="282.4" stroke="#000" stroke-width="1.05" stroke-linecap="butt"/>
<line x1="67.47" y1="222.3" x2="70.4" y2="222.3" stroke="#000" stroke-width="0.95" stroke-linecap="butt"/>
<text x="63.9" y="224.1" font-size="5.1" text-anchor="end" fill="#2b2b2b">24</text>
<line x1="67.47" y1="242.3" x2="70.4" y2="242.3" stroke="#000" stroke-width="0.95" stroke-linecap="butt"/>
<text x="63.9" y="244.1" font-size="5.1" text-anchor="end" fill="#2b2b2b">16</text>
<line x1="67.47" y1="262.4" x2="70.4" y2="262.4" stroke="#000" stroke-width="0.95" stroke-linecap="butt"/>
<text x="63.9" y="264.2" font-size="5.1" text-anchor="end" fill="#2b2b2b">8</text>
<line x1="67.47" y1="282.4" x2="70.4" y2="282.4" stroke="#000" stroke-width="0.95" stroke-linecap="butt"/>
<text x="63.9" y="284.2" font-size="5.1" text-anchor="end" fill="#2b2b2b">0</text>
<line x1="77.4" y1="282.4" x2="77.4" y2="285.32" stroke="#000" stroke-width="0.95" stroke-linecap="butt"/>
<text x="77.4" y="292.7" font-size="5.1" text-anchor="middle" fill="#2b2b2b">0</text>
<line x1="93.7" y1="282.4" x2="93.7" y2="285.32" stroke="#000" stroke-width="0.95" stroke-linecap="butt"/>
<text x="93.7" y="292.7" font-size="5.1" text-anchor="middle" fill="#2b2b2b">9.3</text>
<line x1="110.2" y1="282.4" x2="110.2" y2="285.32" stroke="#000" stroke-width="0.95" stroke-linecap="butt"/>
<text x="110.2" y="292.7" font-size="5.1" text-anchor="middle" fill="#2b2b2b">18.7</text>
<line x1="126.6" y1="282.4" x2="126.6" y2="285.32" stroke="#000" stroke-width="0.95" stroke-linecap="butt"/>
<text x="126.6" y="292.7" font-size="5.1" text-anchor="middle" fill="#2b2b2b">37.4</text>
<line x1="74" y1="258.9" x2="81.7" y2="258.9" stroke="#161616" stroke-width="1.1" stroke-linecap="butt"/>
<text x="77.85" y="259.75" font-size="5.2" text-anchor="middle" fill="#222">*</text>
<line x1="74" y1="266.5" x2="77.9" y2="266.5" stroke="#2a2a2a" stroke-width="0.95" stroke-linecap="butt"/>
<text x="75.95" y="267.35" font-size="5.2" text-anchor="middle" fill="#222">**</text>
<line x1="89.7" y1="249" x2="97.5" y2="249" stroke="#161616" stroke-width="1.1" stroke-linecap="butt"/>
<text x="93.6" y="249.85" font-size="5.2" text-anchor="middle" fill="#222">***</text>
<line x1="89.7" y1="257.5" x2="93.5" y2="257.5" stroke="#2a2a2a" stroke-width="0.95" stroke-linecap="butt"/>
<text x="91.6" y="258.35" font-size="5.2" text-anchor="middle" fill="#222">**</text>
<line x1="105.3" y1="247.2" x2="113.2" y2="247.2" stroke="#161616" stroke-width="1.1" stroke-linecap="butt"/>
<text x="109.25" y="248.05" font-size="5.2" text-anchor="middle" fill="#222">****</text>
<line x1="104.2" y1="254.8" x2="110.7" y2="254.8" stroke="#161616" stroke-width="1.1" stroke-linecap="butt"/>
<text x="107.45" y="255.65" font-size="5.2" text-anchor="middle" fill="#222">****</text>
<line x1="121.6" y1="243.9" x2="129.2" y2="243.9" stroke="#161616" stroke-width="1.1" stroke-linecap="butt"/>
<text x="125.4" y="244.75" font-size="5.2" text-anchor="middle" fill="#222">**</text>
<line x1="120.1" y1="252.8" x2="126.4" y2="252.8" stroke="#161616" stroke-width="1.1" stroke-linecap="butt"/>
<text x="123.25" y="253.65" font-size="5.2" text-anchor="middle" fill="#222">****</text>
<text x="102.2" y="218.2" font-size="5.2" text-anchor="middle" fill="#2b2b2b">d1</text>
<line x1="146.93" y1="278.6" x2="146.93" y2="279.6" stroke="#111" stroke-width="0.8" stroke-linecap="butt"/>
<line x1="145.73" y1="278.7" x2="148.12" y2="278.7" stroke="#111" stroke-width="0.95" stroke-linecap="butt"/>
<rect x="145" y="279.4" width="3.85" height="3" fill="#b00a32"/>
<line x1="150.93" y1="276.6" x2="150.93" y2="277.6" stroke="#111" stroke-width="0.8" stroke-linecap="butt"/>
<line x1="149.73" y1="276.7" x2="152.12" y2="276.7" stroke="#111" stroke-width="0.95" stroke-linecap="butt"/>
<rect x="149" y="277.4" width="3.85" height="5" fill="#204287"/>
<line x1="154.93" y1="275.8" x2="154.93" y2="276.8" stroke="#111" stroke-width="0.8" stroke-linecap="butt"/>
<line x1="153.73" y1="275.9" x2="156.12" y2="275.9" stroke="#111" stroke-width="0.95" stroke-linecap="butt"/>
<rect x="153" y="276.6" width="3.85" height="5.8" fill="#59a636"/>
<line x1="163.53" y1="277.6" x2="163.53" y2="278.6" stroke="#111" stroke-width="0.8" stroke-linecap="butt"/>
<line x1="162.33" y1="277.7" x2="164.72" y2="277.7" stroke="#111" stroke-width="0.95" stroke-linecap="butt"/>
<rect x="161.6" y="278.4" width="3.85" height="4" fill="#b00a32"/>
<line x1="167.53" y1="276.4" x2="167.53" y2="277.2" stroke="#111" stroke-width="0.8" stroke-linecap="butt"/>
<line x1="166.33" y1="276.5" x2="168.72" y2="276.5" stroke="#111" stroke-width="0.95" stroke-linecap="butt"/>
<rect x="165.6" y="277" width="3.85" height="5.4" fill="#204287"/>
<line x1="171.53" y1="276.4" x2="171.53" y2="277.2" stroke="#111" stroke-width="0.8" stroke-linecap="butt"/>
<line x1="170.33" y1="276.5" x2="172.72" y2="276.5" stroke="#111" stroke-width="0.95" stroke-linecap="butt"/>
<rect x="169.6" y="277" width="3.85" height="5.4" fill="#59a636"/>
<line x1="179.93" y1="277" x2="179.93" y2="277.8" stroke="#111" stroke-width="0.8" stroke-linecap="butt"/>
<line x1="178.73" y1="277.1" x2="181.12" y2="277.1" stroke="#111" stroke-width="0.95" stroke-linecap="butt"/>
<rect x="178" y="277.6" width="3.85" height="4.8" fill="#b00a32"/>
<line x1="183.93" y1="269.6" x2="183.93" y2="272.2" stroke="#111" stroke-width="0.8" stroke-linecap="butt"/>
<line x1="182.73" y1="269.7" x2="185.12" y2="269.7" stroke="#111" stroke-width="0.95" stroke-linecap="butt"/>
<rect x="182" y="272" width="3.85" height="10.4" fill="#204287"/>
<line x1="187.93" y1="271" x2="187.93" y2="273.8" stroke="#111" stroke-width="0.8" stroke-linecap="butt"/>
<line x1="186.73" y1="271.1" x2="189.12" y2="271.1" stroke="#111" stroke-width="0.95" stroke-linecap="butt"/>
<rect x="186" y="273.6" width="3.85" height="8.8" fill="#59a636"/>
<line x1="196.12" y1="275.4" x2="196.12" y2="276.8" stroke="#111" stroke-width="0.8" stroke-linecap="butt"/>
<line x1="194.93" y1="275.5" x2="197.32" y2="275.5" stroke="#111" stroke-width="0.95" stroke-linecap="butt"/>
<rect x="194.2" y="276.6" width="3.85" height="5.8" fill="#b00a32"/>
<line x1="200.12" y1="271" x2="200.12" y2="271.8" stroke="#111" stroke-width="0.8" stroke-linecap="butt"/>
<line x1="198.93" y1="271.1" x2="201.32" y2="271.1" stroke="#111" stroke-width="0.95" stroke-linecap="butt"/>
<rect x="198.2" y="271.6" width="3.85" height="10.8" fill="#204287"/>
<line x1="204.12" y1="270.4" x2="204.12" y2="271.4" stroke="#111" stroke-width="0.8" stroke-linecap="butt"/>
<line x1="202.93" y1="270.5" x2="205.32" y2="270.5" stroke="#111" stroke-width="0.95" stroke-linecap="butt"/>
<rect x="202.2" y="271.2" width="3.85" height="11.2" fill="#59a636"/>
<line x1="142.6" y1="220" x2="142.6" y2="282.92" stroke="#000" stroke-width="1.05" stroke-linecap="butt"/>
<line x1="142.07" y1="282.4" x2="208.4" y2="282.4" stroke="#000" stroke-width="1.05" stroke-linecap="butt"/>
<line x1="139.67" y1="222.3" x2="142.6" y2="222.3" stroke="#000" stroke-width="0.95" stroke-linecap="butt"/>
<line x1="139.67" y1="242.3" x2="142.6" y2="242.3" stroke="#000" stroke-width="0.95" stroke-linecap="butt"/>
<line x1="139.67" y1="262.4" x2="142.6" y2="262.4" stroke="#000" stroke-width="0.95" stroke-linecap="butt"/>
<line x1="139.67" y1="282.4" x2="142.6" y2="282.4" stroke="#000" stroke-width="0.95" stroke-linecap="butt"/>
<line x1="151" y1="282.4" x2="151" y2="285.32" stroke="#000" stroke-width="0.95" stroke-linecap="butt"/>
<text x="151" y="292.7" font-size="5.1" text-anchor="middle" fill="#2b2b2b">0</text>
<line x1="167.4" y1="282.4" x2="167.4" y2="285.32" stroke="#000" stroke-width="0.95" stroke-linecap="butt"/>
<text x="167.4" y="292.7" font-size="5.1" text-anchor="middle" fill="#2b2b2b">9.3</text>
<line x1="184" y1="282.4" x2="184" y2="285.32" stroke="#000" stroke-width="0.95" stroke-linecap="butt"/>
<text x="184" y="292.7" font-size="5.1" text-anchor="middle" fill="#2b2b2b">18.7</text>
<line x1="200" y1="282.4" x2="200" y2="285.32" stroke="#000" stroke-width="0.95" stroke-linecap="butt"/>
<text x="200" y="292.7" font-size="5.1" text-anchor="middle" fill="#2b2b2b">37.4</text>
<line x1="147" y1="266.4" x2="154.4" y2="266.4" stroke="#161616" stroke-width="1.1" stroke-linecap="butt"/>
<text x="150.7" y="267.25" font-size="5.2" text-anchor="middle" fill="#222">**</text>
<line x1="147" y1="273" x2="150" y2="273" stroke="#2a2a2a" stroke-width="0.95" stroke-linecap="butt"/>
<text x="148.5" y="273.85" font-size="5.2" text-anchor="middle" fill="#222">*</text>
<line x1="162.4" y1="265.4" x2="170" y2="265.4" stroke="#161616" stroke-width="1.1" stroke-linecap="butt"/>
<text x="166.2" y="266.25" font-size="5.2" text-anchor="middle" fill="#222">***</text>
<line x1="161" y1="272.6" x2="167.6" y2="272.6" stroke="#161616" stroke-width="1.1" stroke-linecap="butt"/>
<text x="164.3" y="273.45" font-size="5.2" text-anchor="middle" fill="#222">****</text>
<line x1="178.4" y1="256.4" x2="186.4" y2="256.4" stroke="#161616" stroke-width="1.1" stroke-linecap="butt"/>
<text x="182.4" y="257.25" font-size="5.2" text-anchor="middle" fill="#222">*</text>
<line x1="178.4" y1="265" x2="182" y2="265" stroke="#2a2a2a" stroke-width="0.95" stroke-linecap="butt"/>
<text x="180.2" y="265.85" font-size="5.2" text-anchor="middle" fill="#222">**</text>
<line x1="194.6" y1="256.4" x2="202.6" y2="256.4" stroke="#161616" stroke-width="1.1" stroke-linecap="butt"/>
<text x="198.6" y="257.25" font-size="5.2" text-anchor="middle" fill="#222">***</text>
<line x1="194" y1="265" x2="198.4" y2="265" stroke="#2a2a2a" stroke-width="0.95" stroke-linecap="butt"/>
<text x="196.2" y="265.85" font-size="5.2" text-anchor="middle" fill="#222">***</text>
<text x="176" y="218.2" font-size="5.2" text-anchor="middle" fill="#2b2b2b">d7</text>
<line x1="220.33" y1="266" x2="220.33" y2="268.8" stroke="#111" stroke-width="0.8" stroke-linecap="butt"/>
<line x1="219.13" y1="266.1" x2="221.53" y2="266.1" stroke="#111" stroke-width="0.95" stroke-linecap="butt"/>
<rect x="218.4" y="268.6" width="3.85" height="13.8" fill="#b00a32"/>
<line x1="224.43" y1="262" x2="224.43" y2="264.4" stroke="#111" stroke-width="0.8" stroke-linecap="butt"/>
<line x1="223.23" y1="262.1" x2="225.62" y2="262.1" stroke="#111" stroke-width="0.95" stroke-linecap="butt"/>
<rect x="222.5" y="264.2" width="3.85" height="18.2" fill="#204287"/>
<line x1="228.53" y1="261.6" x2="228.53" y2="264.4" stroke="#111" stroke-width="0.8" stroke-linecap="butt"/>
<line x1="227.33" y1="261.7" x2="229.72" y2="261.7" stroke="#111" stroke-width="0.95" stroke-linecap="butt"/>
<rect x="226.6" y="264.2" width="3.85" height="18.2" fill="#59a636"/>
<line x1="236.53" y1="255.6" x2="236.53" y2="258.6" stroke="#111" stroke-width="0.8" stroke-linecap="butt"/>
<line x1="235.33" y1="255.7" x2="237.72" y2="255.7" stroke="#111" stroke-width="0.95" stroke-linecap="butt"/>
<rect x="234.6" y="258.4" width="3.85" height="24" fill="#b00a32"/>
<line x1="240.62" y1="249" x2="240.62" y2="252.8" stroke="#111" stroke-width="0.8" stroke-linecap="butt"/>
<line x1="239.43" y1="249.1" x2="241.82" y2="249.1" stroke="#111" stroke-width="0.95" stroke-linecap="butt"/>
<rect x="238.7" y="252.6" width="3.85" height="29.8" fill="#204287"/>
<line x1="244.72" y1="245.4" x2="244.72" y2="249.2" stroke="#111" stroke-width="0.8" stroke-linecap="butt"/>
<line x1="243.53" y1="245.5" x2="245.92" y2="245.5" stroke="#111" stroke-width="0.95" stroke-linecap="butt"/>
<rect x="242.8" y="249" width="3.85" height="33.4" fill="#59a636"/>
<line x1="252.93" y1="259.4" x2="252.93" y2="261.2" stroke="#111" stroke-width="0.8" stroke-linecap="butt"/>
<line x1="251.73" y1="259.5" x2="254.12" y2="259.5" stroke="#111" stroke-width="0.95" stroke-linecap="butt"/>
<rect x="251" y="261" width="3.85" height="21.4" fill="#b00a32"/>
<line x1="257.02" y1="252.6" x2="257.02" y2="254.2" stroke="#111" stroke-width="0.8" stroke-linecap="butt"/>
<line x1="255.82" y1="252.7" x2="258.22" y2="252.7" stroke="#111" stroke-width="0.95" stroke-linecap="butt"/>
<rect x="255.1" y="254" width="3.85" height="28.4" fill="#204287"/>
<line x1="261.12" y1="232" x2="261.12" y2="238.2" stroke="#111" stroke-width="0.8" stroke-linecap="butt"/>
<line x1="259.93" y1="232.1" x2="262.32" y2="232.1" stroke="#111" stroke-width="0.95" stroke-linecap="butt"/>
<rect x="259.2" y="238" width="3.85" height="44.4" fill="#59a636"/>
<line x1="269.12" y1="256.6" x2="269.12" y2="258.4" stroke="#111" stroke-width="0.8" stroke-linecap="butt"/>
<line x1="267.93" y1="256.7" x2="270.32" y2="256.7" stroke="#111" stroke-width="0.95" stroke-linecap="butt"/>
<rect x="267.2" y="258.2" width="3.85" height="24.2" fill="#b00a32"/>
<line x1="273.23" y1="248" x2="273.23" y2="249.6" stroke="#111" stroke-width="0.8" stroke-linecap="butt"/>
<line x1="272.03" y1="248.1" x2="274.43" y2="248.1" stroke="#111" stroke-width="0.95" stroke-linecap="butt"/>
<rect x="271.3" y="249.4" width="3.85" height="33" fill="#204287"/>
<line x1="277.32" y1="224.4" x2="277.32" y2="226.8" stroke="#111" stroke-width="0.8" stroke-linecap="butt"/>
<line x1="276.12" y1="224.5" x2="278.52" y2="224.5" stroke="#111" stroke-width="0.95" stroke-linecap="butt"/>
<rect x="275.4" y="226.6" width="3.85" height="55.8" fill="#59a636"/>
<line x1="216" y1="220" x2="216" y2="282.92" stroke="#000" stroke-width="1.05" stroke-linecap="butt"/>
<line x1="215.47" y1="282.4" x2="281" y2="282.4" stroke="#000" stroke-width="1.05" stroke-linecap="butt"/>
<line x1="213.07" y1="222.3" x2="216" y2="222.3" stroke="#000" stroke-width="0.95" stroke-linecap="butt"/>
<line x1="213.07" y1="242.3" x2="216" y2="242.3" stroke="#000" stroke-width="0.95" stroke-linecap="butt"/>
<line x1="213.07" y1="262.4" x2="216" y2="262.4" stroke="#000" stroke-width="0.95" stroke-linecap="butt"/>
<line x1="213.07" y1="282.4" x2="216" y2="282.4" stroke="#000" stroke-width="0.95" stroke-linecap="butt"/>
<line x1="224" y1="282.4" x2="224" y2="285.32" stroke="#000" stroke-width="0.95" stroke-linecap="butt"/>
<text x="224" y="292.7" font-size="5.1" text-anchor="middle" fill="#2b2b2b">0</text>
<line x1="240.4" y1="282.4" x2="240.4" y2="285.32" stroke="#000" stroke-width="0.95" stroke-linecap="butt"/>
<text x="240.4" y="292.7" font-size="5.1" text-anchor="middle" fill="#2b2b2b">9.3</text>
<line x1="256.6" y1="282.4" x2="256.6" y2="285.32" stroke="#000" stroke-width="0.95" stroke-linecap="butt"/>
<text x="256.6" y="292.7" font-size="5.1" text-anchor="middle" fill="#2b2b2b">18.7</text>
<line x1="273" y1="282.4" x2="273" y2="285.32" stroke="#000" stroke-width="0.95" stroke-linecap="butt"/>
<text x="273" y="292.7" font-size="5.1" text-anchor="middle" fill="#2b2b2b">37.4</text>
<line x1="251.6" y1="227.4" x2="259.6" y2="227.4" stroke="#161616" stroke-width="1.1" stroke-linecap="butt"/>
<text x="255.6" y="228.25" font-size="5.2" text-anchor="middle" fill="#222">*</text>
<line x1="251" y1="243.2" x2="254.6" y2="243.2" stroke="#2a2a2a" stroke-width="0.95" stroke-linecap="butt"/>
<text x="252.8" y="244.05" font-size="5.2" text-anchor="middle" fill="#222">**</text>
<line x1="267.4" y1="221.4" x2="275.4" y2="221.4" stroke="#161616" stroke-width="1.1" stroke-linecap="butt"/>
<text x="271.4" y="222.25" font-size="5.2" text-anchor="middle" fill="#222">***</text>
<line x1="267.2" y1="237.8" x2="271" y2="237.8" stroke="#2a2a2a" stroke-width="0.95" stroke-linecap="butt"/>
<text x="269.1" y="238.65" font-size="5.2" text-anchor="middle" fill="#222">**</text>
<text x="248.2" y="218.2" font-size="5.2" text-anchor="middle" fill="#2b2b2b">d1</text>
<line x1="292.93" y1="277.4" x2="292.93" y2="279.2" stroke="#111" stroke-width="0.8" stroke-linecap="butt"/>
<line x1="291.73" y1="277.5" x2="294.12" y2="277.5" stroke="#111" stroke-width="0.95" stroke-linecap="butt"/>
<rect x="291" y="279" width="3.85" height="3.4" fill="#b00a32"/>
<line x1="297.03" y1="258.6" x2="297.03" y2="262.2" stroke="#111" stroke-width="0.8" stroke-linecap="butt"/>
<line x1="295.83" y1="258.7" x2="298.23" y2="258.7" stroke="#111" stroke-width="0.95" stroke-linecap="butt"/>
<rect x="295.1" y="262" width="3.85" height="20.4" fill="#204287"/>
<line x1="301.12" y1="269" x2="301.12" y2="270.2" stroke="#111" stroke-width="0.8" stroke-linecap="butt"/>
<line x1="299.93" y1="269.1" x2="302.32" y2="269.1" stroke="#111" stroke-width="0.95" stroke-linecap="butt"/>
<rect x="299.2" y="270" width="3.85" height="12.4" fill="#59a636"/>
<line x1="309.12" y1="275" x2="309.12" y2="276.4" stroke="#111" stroke-width="0.8" stroke-linecap="butt"/>
<line x1="307.93" y1="275.1" x2="310.32" y2="275.1" stroke="#111" stroke-width="0.95" stroke-linecap="butt"/>
<rect x="307.2" y="276.2" width="3.85" height="6.2" fill="#b00a32"/>
<line x1="313.23" y1="245.4" x2="313.23" y2="249.2" stroke="#111" stroke-width="0.8" stroke-linecap="butt"/>
<line x1="312.03" y1="245.5" x2="314.43" y2="245.5" stroke="#111" stroke-width="0.95" stroke-linecap="butt"/>
<rect x="311.3" y="249" width="3.85" height="33.4" fill="#204287"/>
<line x1="317.32" y1="258.4" x2="317.32" y2="260.2" stroke="#111" stroke-width="0.8" stroke-linecap="butt"/>
<line x1="316.12" y1="258.5" x2="318.52" y2="258.5" stroke="#111" stroke-width="0.95" stroke-linecap="butt"/>
<rect x="315.4" y="260" width="3.85" height="22.4" fill="#59a636"/>
<line x1="325.32" y1="272.4" x2="325.32" y2="273.8" stroke="#111" stroke-width="0.8" stroke-linecap="butt"/>
<line x1="324.12" y1="272.5" x2="326.52" y2="272.5" stroke="#111" stroke-width="0.95" stroke-linecap="butt"/>
<rect x="323.4" y="273.6" width="3.85" height="8.8" fill="#b00a32"/>
<line x1="329.43" y1="240.6" x2="329.43" y2="242.8" stroke="#111" stroke-width="0.8" stroke-linecap="butt"/>
<line x1="328.23" y1="240.7" x2="330.62" y2="240.7" stroke="#111" stroke-width="0.95" stroke-linecap="butt"/>
<rect x="327.5" y="242.6" width="3.85" height="39.8" fill="#204287"/>
<line x1="333.52" y1="255.4" x2="333.52" y2="257.2" stroke="#111" stroke-width="0.8" stroke-linecap="butt"/>
<line x1="332.32" y1="255.5" x2="334.72" y2="255.5" stroke="#111" stroke-width="0.95" stroke-linecap="butt"/>
<rect x="331.6" y="257" width="3.85" height="25.4" fill="#59a636"/>
<line x1="341.53" y1="271" x2="341.53" y2="272.2" stroke="#111" stroke-width="0.8" stroke-linecap="butt"/>
<line x1="340.33" y1="271.1" x2="342.73" y2="271.1" stroke="#111" stroke-width="0.95" stroke-linecap="butt"/>
<rect x="339.6" y="272" width="3.85" height="10.4" fill="#b00a32"/>
<line x1="345.63" y1="240.6" x2="345.63" y2="243.2" stroke="#111" stroke-width="0.8" stroke-linecap="butt"/>
<line x1="344.43" y1="240.7" x2="346.83" y2="240.7" stroke="#111" stroke-width="0.95" stroke-linecap="butt"/>
<rect x="343.7" y="243" width="3.85" height="39.4" fill="#204287"/>
<line x1="349.73" y1="252.4" x2="349.73" y2="254.8" stroke="#111" stroke-width="0.8" stroke-linecap="butt"/>
<line x1="348.53" y1="252.5" x2="350.93" y2="252.5" stroke="#111" stroke-width="0.95" stroke-linecap="butt"/>
<rect x="347.8" y="254.6" width="3.85" height="27.8" fill="#59a636"/>
<line x1="288.4" y1="220" x2="288.4" y2="282.92" stroke="#000" stroke-width="1.05" stroke-linecap="butt"/>
<line x1="287.88" y1="282.4" x2="353.6" y2="282.4" stroke="#000" stroke-width="1.05" stroke-linecap="butt"/>
<line x1="285.48" y1="222.3" x2="288.4" y2="222.3" stroke="#000" stroke-width="0.95" stroke-linecap="butt"/>
<line x1="285.48" y1="242.3" x2="288.4" y2="242.3" stroke="#000" stroke-width="0.95" stroke-linecap="butt"/>
<line x1="285.48" y1="262.4" x2="288.4" y2="262.4" stroke="#000" stroke-width="0.95" stroke-linecap="butt"/>
<line x1="285.48" y1="282.4" x2="288.4" y2="282.4" stroke="#000" stroke-width="0.95" stroke-linecap="butt"/>
<line x1="296.6" y1="282.4" x2="296.6" y2="285.32" stroke="#000" stroke-width="0.95" stroke-linecap="butt"/>
<text x="296.6" y="292.7" font-size="5.1" text-anchor="middle" fill="#2b2b2b">0</text>
<line x1="312.8" y1="282.4" x2="312.8" y2="285.32" stroke="#000" stroke-width="0.95" stroke-linecap="butt"/>
<text x="312.8" y="292.7" font-size="5.1" text-anchor="middle" fill="#2b2b2b">9.3</text>
<line x1="329.2" y1="282.4" x2="329.2" y2="285.32" stroke="#000" stroke-width="0.95" stroke-linecap="butt"/>
<text x="329.2" y="292.7" font-size="5.1" text-anchor="middle" fill="#2b2b2b">18.7</text>
<line x1="345.4" y1="282.4" x2="345.4" y2="285.32" stroke="#000" stroke-width="0.95" stroke-linecap="butt"/>
<text x="345.4" y="292.7" font-size="5.1" text-anchor="middle" fill="#2b2b2b">37.4</text>
<line x1="292.4" y1="250.6" x2="301" y2="250.6" stroke="#161616" stroke-width="1.1" stroke-linecap="butt"/>
<text x="296.7" y="251.45" font-size="5.2" text-anchor="middle" fill="#222">****</text>
<line x1="292.4" y1="256.6" x2="296.4" y2="256.6" stroke="#2a2a2a" stroke-width="0.95" stroke-linecap="butt"/>
<text x="294.4" y="257.45" font-size="5.2" text-anchor="middle" fill="#222">**</text>
<line x1="308" y1="237" x2="316" y2="237" stroke="#161616" stroke-width="1.1" stroke-linecap="butt"/>
<text x="312" y="237.85" font-size="5.2" text-anchor="middle" fill="#222">****</text>
<line x1="307" y1="243.6" x2="312.4" y2="243.6" stroke="#2a2a2a" stroke-width="0.95" stroke-linecap="butt"/>
<text x="309.7" y="244.45" font-size="5.2" text-anchor="middle" fill="#222">***</text>
<line x1="324" y1="231.6" x2="332" y2="231.6" stroke="#161616" stroke-width="1.1" stroke-linecap="butt"/>
<text x="328" y="232.45" font-size="5.2" text-anchor="middle" fill="#222">****</text>
<line x1="322.4" y1="238.6" x2="329.6" y2="238.6" stroke="#161616" stroke-width="1.1" stroke-linecap="butt"/>
<text x="326" y="239.45" font-size="5.2" text-anchor="middle" fill="#222">****</text>
<line x1="340" y1="231.6" x2="347.6" y2="231.6" stroke="#161616" stroke-width="1.1" stroke-linecap="butt"/>
<text x="343.8" y="232.45" font-size="5.2" text-anchor="middle" fill="#222">***</text>
<line x1="338.4" y1="238.6" x2="345.6" y2="238.6" stroke="#161616" stroke-width="1.1" stroke-linecap="butt"/>
<text x="342" y="239.45" font-size="5.2" text-anchor="middle" fill="#222">****</text>
<text x="320.6" y="218.2" font-size="5.2" text-anchor="middle" fill="#2b2b2b">d7</text>
<rect x="358.4" y="242" width="5.4" height="3.8" fill="#59a636"/>
<text x="366" y="245.6" font-size="5" text-anchor="start" fill="#2b2b2b">pom</text>
<rect x="358.4" y="249.4" width="5.4" height="3.8" fill="#204287"/>
<text x="366" y="253" font-size="5" text-anchor="start" fill="#2b2b2b">len</text>
<rect x="358.4" y="256.8" width="5.4" height="3.8" fill="#b00a32"/>
<text x="366" y="260.4" font-size="5" text-anchor="start" fill="#2b2b2b">ctrl</text>
<text transform="translate(44.3 250.8) rotate(-90)" x="0" y="0" font-size="6.4" text-anchor="middle" fill="#262626" font-weight="bold" textLength="24" lengthAdjust="spacingAndGlyphs">% Tscm in</text>
<text transform="translate(54.3 251.3) rotate(-90)" x="0" y="0" font-size="6.4" text-anchor="middle" fill="#262626" font-weight="bold" textLength="21" lengthAdjust="spacingAndGlyphs">T subsets</text>
<text x="213.3" y="302.8" font-size="6.4" text-anchor="middle" fill="#262626" font-weight="bold" textLength="33" lengthAdjust="spacingAndGlyphs">AMG 701 (pM)</text>
<line x1="421.43" y1="264.5" x2="421.43" y2="267.7" stroke="#111" stroke-width="0.8" stroke-linecap="butt"/>
<line x1="420.23" y1="264.6" x2="422.62" y2="264.6" stroke="#111" stroke-width="0.95" stroke-linecap="butt"/>
<rect x="419.25" y="267.5" width="4.35" height="15" fill="#b00a32"/>
<line x1="426.18" y1="267.5" x2="426.18" y2="268.45" stroke="#111" stroke-width="0.8" stroke-linecap="butt"/>
<line x1="424.98" y1="267.6" x2="427.38" y2="267.6" stroke="#111" stroke-width="0.95" stroke-linecap="butt"/>
<rect x="424" y="268.25" width="4.35" height="14.25" fill="#204287"/>
<line x1="430.93" y1="264.25" x2="430.93" y2="267.2" stroke="#111" stroke-width="0.8" stroke-linecap="butt"/>
<line x1="429.73" y1="264.35" x2="432.12" y2="264.35" stroke="#111" stroke-width="0.95" stroke-linecap="butt"/>
<rect x="428.75" y="267" width="4.35" height="15.5" fill="#59a636"/>
<line x1="440.18" y1="258.25" x2="440.18" y2="261.45" stroke="#111" stroke-width="0.8" stroke-linecap="butt"/>
<line x1="438.98" y1="258.35" x2="441.38" y2="258.35" stroke="#111" stroke-width="0.95" stroke-linecap="butt"/>
<rect x="438" y="261.25" width="4.35" height="21.25" fill="#b00a32"/>
<line x1="444.93" y1="252.5" x2="444.93" y2="255.95" stroke="#111" stroke-width="0.8" stroke-linecap="butt"/>
<line x1="443.73" y1="252.6" x2="446.12" y2="252.6" stroke="#111" stroke-width="0.95" stroke-linecap="butt"/>
<rect x="442.75" y="255.75" width="4.35" height="26.75" fill="#204287"/>
<line x1="449.68" y1="254.5" x2="449.68" y2="257.2" stroke="#111" stroke-width="0.8" stroke-linecap="butt"/>
<line x1="448.48" y1="254.6" x2="450.88" y2="254.6" stroke="#111" stroke-width="0.95" stroke-linecap="butt"/>
<rect x="447.5" y="257" width="4.35" height="25.5" fill="#59a636"/>
<line x1="458.68" y1="255.5" x2="458.68" y2="257.7" stroke="#111" stroke-width="0.8" stroke-linecap="butt"/>
<line x1="457.48" y1="255.6" x2="459.88" y2="255.6" stroke="#111" stroke-width="0.95" stroke-linecap="butt"/>
<rect x="456.5" y="257.5" width="4.35" height="25" fill="#b00a32"/>
<line x1="463.43" y1="246.75" x2="463.43" y2="250.2" stroke="#111" stroke-width="0.8" stroke-linecap="butt"/>
<line x1="462.23" y1="246.85" x2="464.62" y2="246.85" stroke="#111" stroke-width="0.95" stroke-linecap="butt"/>
<rect x="461.25" y="250" width="4.35" height="32.5" fill="#204287"/>
<line x1="468.18" y1="249.5" x2="468.18" y2="250.95" stroke="#111" stroke-width="0.8" stroke-linecap="butt"/>
<line x1="466.98" y1="249.6" x2="469.38" y2="249.6" stroke="#111" stroke-width="0.95" stroke-linecap="butt"/>
<rect x="466" y="250.75" width="4.35" height="31.75" fill="#59a636"/>
<line x1="477.43" y1="251.25" x2="477.43" y2="254.45" stroke="#111" stroke-width="0.8" stroke-linecap="butt"/>
<line x1="476.23" y1="251.35" x2="478.62" y2="251.35" stroke="#111" stroke-width="0.95" stroke-linecap="butt"/>
<rect x="475.25" y="254.25" width="4.35" height="28.25" fill="#b00a32"/>
<line x1="482.18" y1="233.75" x2="482.18" y2="236.2" stroke="#111" stroke-width="0.8" stroke-linecap="butt"/>
<line x1="480.98" y1="233.85" x2="483.38" y2="233.85" stroke="#111" stroke-width="0.95" stroke-linecap="butt"/>
<rect x="480" y="236" width="4.35" height="46.5" fill="#204287"/>
<line x1="486.93" y1="228.75" x2="486.93" y2="234.7" stroke="#111" stroke-width="0.8" stroke-linecap="butt"/>
<line x1="485.73" y1="228.85" x2="488.12" y2="228.85" stroke="#111" stroke-width="0.95" stroke-linecap="butt"/>
<rect x="484.75" y="234.5" width="4.35" height="48" fill="#59a636"/>
<line x1="416.75" y1="220" x2="416.75" y2="283.02" stroke="#000" stroke-width="1.05" stroke-linecap="butt"/>
<line x1="416.23" y1="282.5" x2="491.25" y2="282.5" stroke="#000" stroke-width="1.05" stroke-linecap="butt"/>
<line x1="413.83" y1="222.5" x2="416.75" y2="222.5" stroke="#000" stroke-width="0.95" stroke-linecap="butt"/>
<text x="410.25" y="224.3" font-size="5.1" text-anchor="end" fill="#2b2b2b">2.0</text>
<line x1="413.83" y1="237.5" x2="416.75" y2="237.5" stroke="#000" stroke-width="0.95" stroke-linecap="butt"/>
<text x="410.25" y="239.3" font-size="5.1" text-anchor="end" fill="#2b2b2b">1.5</text>
<line x1="413.83" y1="252.5" x2="416.75" y2="252.5" stroke="#000" stroke-width="0.95" stroke-linecap="butt"/>
<text x="410.25" y="254.3" font-size="5.1" text-anchor="end" fill="#2b2b2b">1.0</text>
<line x1="413.83" y1="267.5" x2="416.75" y2="267.5" stroke="#000" stroke-width="0.95" stroke-linecap="butt"/>
<text x="410.25" y="269.3" font-size="5.1" text-anchor="end" fill="#2b2b2b">0.5</text>
<line x1="413.83" y1="282.5" x2="416.75" y2="282.5" stroke="#000" stroke-width="0.95" stroke-linecap="butt"/>
<text x="410.25" y="284.3" font-size="5.1" text-anchor="end" fill="#2b2b2b">0.0</text>
<line x1="426.25" y1="282.5" x2="426.25" y2="285.42" stroke="#000" stroke-width="0.95" stroke-linecap="butt"/>
<text x="426.25" y="292.8" font-size="5.1" text-anchor="middle" fill="#2b2b2b">0</text>
<line x1="445" y1="282.5" x2="445" y2="285.42" stroke="#000" stroke-width="0.95" stroke-linecap="butt"/>
<text x="445" y="292.8" font-size="5.1" text-anchor="middle" fill="#2b2b2b">9.3</text>
<line x1="463.5" y1="282.5" x2="463.5" y2="285.42" stroke="#000" stroke-width="0.95" stroke-linecap="butt"/>
<text x="463.5" y="292.8" font-size="5.1" text-anchor="middle" fill="#2b2b2b">18.7</text>
<line x1="482" y1="282.5" x2="482" y2="285.42" stroke="#000" stroke-width="0.95" stroke-linecap="butt"/>
<text x="482" y="292.8" font-size="5.1" text-anchor="middle" fill="#2b2b2b">37.4</text>
<line x1="459.25" y1="234.5" x2="468.5" y2="234.5" stroke="#161616" stroke-width="1.1" stroke-linecap="butt"/>
<text x="463.88" y="235.35" font-size="5.2" text-anchor="middle" fill="#222">**</text>
<line x1="459.25" y1="243.25" x2="463.25" y2="243.25" stroke="#2a2a2a" stroke-width="0.95" stroke-linecap="butt"/>
<text x="461.25" y="244.1" font-size="5.2" text-anchor="middle" fill="#222">*</text>
<line x1="478.25" y1="220.5" x2="487.5" y2="220.5" stroke="#161616" stroke-width="1.1" stroke-linecap="butt"/>
<text x="482.88" y="221.35" font-size="5.2" text-anchor="middle" fill="#222">**</text>
<line x1="477.5" y1="231" x2="483" y2="231" stroke="#2a2a2a" stroke-width="0.95" stroke-linecap="butt"/>
<text x="480.25" y="231.85" font-size="5.2" text-anchor="middle" fill="#222">***</text>
<rect x="495" y="221.75" width="5.4" height="3.8" fill="#59a636"/>
<text x="503.75" y="225.35" font-size="5" text-anchor="start" fill="#2b2b2b">pom</text>
<rect x="495" y="229" width="5.4" height="3.8" fill="#204287"/>
<text x="503.75" y="232.6" font-size="5" text-anchor="start" fill="#2b2b2b">len</text>
<rect x="495" y="236.25" width="5.4" height="3.8" fill="#b00a32"/>
<text x="503.75" y="239.85" font-size="5" text-anchor="start" fill="#2b2b2b">ctrl</text>
<text transform="translate(398.5 251.3) rotate(-90)" x="0" y="0" font-size="6.4" text-anchor="middle" fill="#262626" font-weight="bold" textLength="33.5" lengthAdjust="spacingAndGlyphs">CD8/CD4 ratio</text>
<text x="454.3" y="303.2" font-size="6.4" text-anchor="middle" fill="#262626" font-weight="bold" textLength="38.5" lengthAdjust="spacingAndGlyphs">AMG 701 (ng/ml)</text>
<text x="139.3" y="330" font-size="7.4" text-anchor="middle" fill="#000">CD4</text>
<text x="282" y="330" font-size="7.4" text-anchor="middle" fill="#000">CD8</text>
<path d="M70.3 336.5V334.3H208.4V336.5" fill="none" stroke="#222" stroke-width="1"/>
<path d="M212.6 336.5V334.3H351.4V336.5" fill="none" stroke="#222" stroke-width="1"/>
<line x1="74.62" y1="385.6" x2="74.62" y2="387.3" stroke="#111" stroke-width="0.8" stroke-linecap="butt"/>
<line x1="73.42" y1="385.7" x2="75.83" y2="385.7" stroke="#111" stroke-width="0.95" stroke-linecap="butt"/>
<rect x="72.7" y="387.1" width="3.85" height="15.6" fill="#b00a32"/>
<line x1="78.72" y1="390.5" x2="78.72" y2="392.2" stroke="#111" stroke-width="0.8" stroke-linecap="butt"/>
<line x1="77.52" y1="390.6" x2="79.92" y2="390.6" stroke="#111" stroke-width="0.95" stroke-linecap="butt"/>
<rect x="76.8" y="392" width="3.85" height="10.7" fill="#204287"/>
<line x1="82.83" y1="393.8" x2="82.83" y2="395.4" stroke="#111" stroke-width="0.8" stroke-linecap="butt"/>
<line x1="81.62" y1="393.9" x2="84.03" y2="393.9" stroke="#111" stroke-width="0.95" stroke-linecap="butt"/>
<rect x="80.9" y="395.2" width="3.85" height="7.5" fill="#59a636"/>
<line x1="91.22" y1="386.8" x2="91.22" y2="387.6" stroke="#111" stroke-width="0.8" stroke-linecap="butt"/>
<line x1="90.02" y1="386.9" x2="92.42" y2="386.9" stroke="#111" stroke-width="0.95" stroke-linecap="butt"/>
<rect x="89.3" y="387.4" width="3.85" height="15.3" fill="#b00a32"/>
<line x1="95.32" y1="388.7" x2="95.32" y2="390.4" stroke="#111" stroke-width="0.8" stroke-linecap="butt"/>
<line x1="94.12" y1="388.8" x2="96.52" y2="388.8" stroke="#111" stroke-width="0.95" stroke-linecap="butt"/>
<rect x="93.4" y="390.2" width="3.85" height="12.5" fill="#204287"/>
<line x1="99.42" y1="393.8" x2="99.42" y2="395.2" stroke="#111" stroke-width="0.8" stroke-linecap="butt"/>
<line x1="98.22" y1="393.9" x2="100.62" y2="393.9" stroke="#111" stroke-width="0.95" stroke-linecap="butt"/>
<rect x="97.5" y="395" width="3.85" height="7.7" fill="#59a636"/>
<line x1="108.12" y1="382.6" x2="108.12" y2="384.6" stroke="#111" stroke-width="0.8" stroke-linecap="butt"/>
<line x1="106.92" y1="382.7" x2="109.33" y2="382.7" stroke="#111" stroke-width="0.95" stroke-linecap="butt"/>
<rect x="106.2" y="384.4" width="3.85" height="18.3" fill="#b00a32"/>
<line x1="112.22" y1="388.3" x2="112.22" y2="390" stroke="#111" stroke-width="0.8" stroke-linecap="butt"/>
<line x1="111.02" y1="388.4" x2="113.42" y2="388.4" stroke="#111" stroke-width="0.95" stroke-linecap="butt"/>
<rect x="110.3" y="389.8" width="3.85" height="12.9" fill="#204287"/>
<line x1="116.33" y1="388" x2="116.33" y2="390" stroke="#111" stroke-width="0.8" stroke-linecap="butt"/>
<line x1="115.12" y1="388.1" x2="117.53" y2="388.1" stroke="#111" stroke-width="0.95" stroke-linecap="butt"/>
<rect x="114.4" y="389.8" width="3.85" height="12.9" fill="#59a636"/>
<line x1="124.72" y1="372.4" x2="124.72" y2="374.4" stroke="#111" stroke-width="0.8" stroke-linecap="butt"/>
<line x1="123.52" y1="372.5" x2="125.92" y2="372.5" stroke="#111" stroke-width="0.95" stroke-linecap="butt"/>
<rect x="122.8" y="374.2" width="3.85" height="28.5" fill="#b00a32"/>
<line x1="128.82" y1="377.9" x2="128.82" y2="379.9" stroke="#111" stroke-width="0.8" stroke-linecap="butt"/>
<line x1="127.62" y1="378" x2="130.02" y2="378" stroke="#111" stroke-width="0.95" stroke-linecap="butt"/>
<rect x="126.9" y="379.7" width="3.85" height="23" fill="#204287"/>
<line x1="132.93" y1="382.4" x2="132.93" y2="384" stroke="#111" stroke-width="0.8" stroke-linecap="butt"/>
<line x1="131.73" y1="382.5" x2="134.12" y2="382.5" stroke="#111" stroke-width="0.95" stroke-linecap="butt"/>
<rect x="131" y="383.8" width="3.85" height="18.9" fill="#59a636"/>
<line x1="70.15" y1="343.3" x2="70.15" y2="403.22" stroke="#000" stroke-width="1.05" stroke-linecap="butt"/>
<line x1="69.62" y1="402.7" x2="136.8" y2="402.7" stroke="#000" stroke-width="1.05" stroke-linecap="butt"/>
<line x1="67.22" y1="346.3" x2="70.15" y2="346.3" stroke="#000" stroke-width="0.95" stroke-linecap="butt"/>
<text x="63.65" y="348.1" font-size="5.1" text-anchor="end" fill="#2b2b2b">15</text>
<line x1="67.22" y1="365.1" x2="70.15" y2="365.1" stroke="#000" stroke-width="0.95" stroke-linecap="butt"/>
<text x="63.65" y="366.9" font-size="5.1" text-anchor="end" fill="#2b2b2b">10</text>
<line x1="67.22" y1="383.9" x2="70.15" y2="383.9" stroke="#000" stroke-width="0.95" stroke-linecap="butt"/>
<text x="63.65" y="385.7" font-size="5.1" text-anchor="end" fill="#2b2b2b">5</text>
<line x1="67.22" y1="402.7" x2="70.15" y2="402.7" stroke="#000" stroke-width="0.95" stroke-linecap="butt"/>
<text x="63.65" y="404.5" font-size="5.1" text-anchor="end" fill="#2b2b2b">0</text>
<line x1="78.5" y1="402.7" x2="78.5" y2="405.62" stroke="#000" stroke-width="0.95" stroke-linecap="butt"/>
<text x="78.5" y="413" font-size="5.1" text-anchor="middle" fill="#2b2b2b">0</text>
<line x1="95.1" y1="402.7" x2="95.1" y2="405.62" stroke="#000" stroke-width="0.95" stroke-linecap="butt"/>
<text x="95.1" y="413" font-size="5.1" text-anchor="middle" fill="#2b2b2b">9.3</text>
<line x1="112" y1="402.7" x2="112" y2="405.62" stroke="#000" stroke-width="0.95" stroke-linecap="butt"/>
<text x="112" y="413" font-size="5.1" text-anchor="middle" fill="#2b2b2b">18.7</text>
<line x1="128.8" y1="402.7" x2="128.8" y2="405.62" stroke="#000" stroke-width="0.95" stroke-linecap="butt"/>
<text x="128.8" y="413" font-size="5.1" text-anchor="middle" fill="#2b2b2b">37.4</text>
<line x1="74" y1="377.5" x2="82.6" y2="377.5" stroke="#161616" stroke-width="1.1" stroke-linecap="butt"/>
<text x="78.3" y="378.35" font-size="5.2" text-anchor="middle" fill="#222">**</text>
<line x1="74" y1="382" x2="77.9" y2="382" stroke="#2a2a2a" stroke-width="0.95" stroke-linecap="butt"/>
<text x="75.95" y="382.85" font-size="5.2" text-anchor="middle" fill="#222">*</text>
<line x1="90.2" y1="382" x2="98.4" y2="382" stroke="#161616" stroke-width="1.1" stroke-linecap="butt"/>
<text x="94.3" y="382.85" font-size="5.2" text-anchor="middle" fill="#222">**</text>
<line x1="106.5" y1="373.9" x2="114.7" y2="373.9" stroke="#161616" stroke-width="1.1" stroke-linecap="butt"/>
<text x="110.6" y="374.75" font-size="5.2" text-anchor="middle" fill="#222">*</text>
<line x1="106.5" y1="379.8" x2="110.7" y2="379.8" stroke="#2a2a2a" stroke-width="0.95" stroke-linecap="butt"/>
<text x="108.6" y="380.65" font-size="5.2" text-anchor="middle" fill="#222">**</text>
<line x1="123.4" y1="360.3" x2="131" y2="360.3" stroke="#161616" stroke-width="1.1" stroke-linecap="butt"/>
<text x="127.2" y="361.15" font-size="5.2" text-anchor="middle" fill="#222">*</text>
<line x1="123.4" y1="366.3" x2="126.8" y2="366.3" stroke="#2a2a2a" stroke-width="0.95" stroke-linecap="butt"/>
<text x="125.1" y="367.15" font-size="5.2" text-anchor="middle" fill="#222">*</text>
<text x="103.1" y="342.3" font-size="5.2" text-anchor="middle" fill="#2b2b2b">d1</text>
<line x1="148.93" y1="399.2" x2="148.93" y2="400.6" stroke="#111" stroke-width="0.8" stroke-linecap="butt"/>
<line x1="147.73" y1="399.3" x2="150.12" y2="399.3" stroke="#111" stroke-width="0.95" stroke-linecap="butt"/>
<rect x="147" y="400.4" width="3.85" height="2.3" fill="#b00a32"/>
<line x1="152.93" y1="401.2" x2="152.93" y2="402" stroke="#111" stroke-width="0.8" stroke-linecap="butt"/>
<line x1="151.73" y1="401.3" x2="154.12" y2="401.3" stroke="#111" stroke-width="0.95" stroke-linecap="butt"/>
<rect x="151" y="401.8" width="3.85" height="0.9" fill="#204287"/>
<line x1="156.93" y1="401.2" x2="156.93" y2="402" stroke="#111" stroke-width="0.8" stroke-linecap="butt"/>
<line x1="155.73" y1="401.3" x2="158.12" y2="401.3" stroke="#111" stroke-width="0.95" stroke-linecap="butt"/>
<rect x="155" y="401.8" width="3.85" height="0.9" fill="#59a636"/>
<line x1="164.93" y1="391" x2="164.93" y2="393.2" stroke="#111" stroke-width="0.8" stroke-linecap="butt"/>
<line x1="163.73" y1="391.1" x2="166.12" y2="391.1" stroke="#111" stroke-width="0.95" stroke-linecap="butt"/>
<rect x="163" y="393" width="3.85" height="9.7" fill="#b00a32"/>
<line x1="168.93" y1="400" x2="168.93" y2="400.8" stroke="#111" stroke-width="0.8" stroke-linecap="butt"/>
<line x1="167.73" y1="400.1" x2="170.12" y2="400.1" stroke="#111" stroke-width="0.95" stroke-linecap="butt"/>
<rect x="167" y="400.6" width="3.85" height="2.1" fill="#204287"/>
<line x1="172.93" y1="396" x2="172.93" y2="397.8" stroke="#111" stroke-width="0.8" stroke-linecap="butt"/>
<line x1="171.73" y1="396.1" x2="174.12" y2="396.1" stroke="#111" stroke-width="0.95" stroke-linecap="butt"/>
<rect x="171" y="397.6" width="3.85" height="5.1" fill="#59a636"/>
<line x1="180.93" y1="383.6" x2="180.93" y2="385.8" stroke="#111" stroke-width="0.8" stroke-linecap="butt"/>
<line x1="179.73" y1="383.7" x2="182.12" y2="383.7" stroke="#111" stroke-width="0.95" stroke-linecap="butt"/>
<rect x="179" y="385.6" width="3.85" height="17.1" fill="#b00a32"/>
<line x1="184.93" y1="398.4" x2="184.93" y2="399.6" stroke="#111" stroke-width="0.8" stroke-linecap="butt"/>
<line x1="183.73" y1="398.5" x2="186.12" y2="398.5" stroke="#111" stroke-width="0.95" stroke-linecap="butt"/>
<rect x="183" y="399.4" width="3.85" height="3.3" fill="#204287"/>
<line x1="188.93" y1="393.2" x2="188.93" y2="394.6" stroke="#111" stroke-width="0.8" stroke-linecap="butt"/>
<line x1="187.73" y1="393.3" x2="190.12" y2="393.3" stroke="#111" stroke-width="0.95" stroke-linecap="butt"/>
<rect x="187" y="394.4" width="3.85" height="8.3" fill="#59a636"/>
<line x1="196.93" y1="366" x2="196.93" y2="368.2" stroke="#111" stroke-width="0.8" stroke-linecap="butt"/>
<line x1="195.73" y1="366.1" x2="198.12" y2="366.1" stroke="#111" stroke-width="0.95" stroke-linecap="butt"/>
<rect x="195" y="368" width="3.85" height="34.7" fill="#b00a32"/>
<line x1="200.93" y1="389.4" x2="200.93" y2="390.6" stroke="#111" stroke-width="0.8" stroke-linecap="butt"/>
<line x1="199.73" y1="389.5" x2="202.12" y2="389.5" stroke="#111" stroke-width="0.95" stroke-linecap="butt"/>
<rect x="199" y="390.4" width="3.85" height="12.3" fill="#204287"/>
<line x1="204.93" y1="375" x2="204.93" y2="379.2" stroke="#111" stroke-width="0.8" stroke-linecap="butt"/>
<line x1="203.73" y1="375.1" x2="206.12" y2="375.1" stroke="#111" stroke-width="0.95" stroke-linecap="butt"/>
<rect x="203" y="379" width="3.85" height="23.7" fill="#59a636"/>
<line x1="144.6" y1="343.5" x2="144.6" y2="403.22" stroke="#000" stroke-width="1.05" stroke-linecap="butt"/>
<line x1="144.07" y1="402.7" x2="209" y2="402.7" stroke="#000" stroke-width="1.05" stroke-linecap="butt"/>
<line x1="141.67" y1="346.3" x2="144.6" y2="346.3" stroke="#000" stroke-width="0.95" stroke-linecap="butt"/>
<line x1="141.67" y1="365.1" x2="144.6" y2="365.1" stroke="#000" stroke-width="0.95" stroke-linecap="butt"/>
<line x1="141.67" y1="383.9" x2="144.6" y2="383.9" stroke="#000" stroke-width="0.95" stroke-linecap="butt"/>
<line x1="141.67" y1="402.7" x2="144.6" y2="402.7" stroke="#000" stroke-width="0.95" stroke-linecap="butt"/>
<line x1="152.6" y1="402.7" x2="152.6" y2="405.62" stroke="#000" stroke-width="0.95" stroke-linecap="butt"/>
<text x="152.6" y="413" font-size="5.1" text-anchor="middle" fill="#2b2b2b">0</text>
<line x1="168.4" y1="402.7" x2="168.4" y2="405.62" stroke="#000" stroke-width="0.95" stroke-linecap="butt"/>
<text x="168.4" y="413" font-size="5.1" text-anchor="middle" fill="#2b2b2b">9.3</text>
<line x1="184.4" y1="402.7" x2="184.4" y2="405.62" stroke="#000" stroke-width="0.95" stroke-linecap="butt"/>
<text x="184.4" y="413" font-size="5.1" text-anchor="middle" fill="#2b2b2b">18.7</text>
<line x1="200.6" y1="402.7" x2="200.6" y2="405.62" stroke="#000" stroke-width="0.95" stroke-linecap="butt"/>
<text x="200.6" y="413" font-size="5.1" text-anchor="middle" fill="#2b2b2b">37.4</text>
<line x1="149" y1="387" x2="157" y2="387" stroke="#161616" stroke-width="1.1" stroke-linecap="butt"/>
<text x="153" y="387.85" font-size="5.2" text-anchor="middle" fill="#222">*</text>
<line x1="149" y1="393" x2="153" y2="393" stroke="#2a2a2a" stroke-width="0.95" stroke-linecap="butt"/>
<text x="151" y="393.85" font-size="5.2" text-anchor="middle" fill="#222">*</text>
<line x1="164.6" y1="387" x2="168.6" y2="387" stroke="#2a2a2a" stroke-width="0.95" stroke-linecap="butt"/>
<text x="166.6" y="387.85" font-size="5.2" text-anchor="middle" fill="#222">*</text>
<line x1="181" y1="373" x2="189" y2="373" stroke="#161616" stroke-width="1.1" stroke-linecap="butt"/>
<text x="185" y="373.85" font-size="5.2" text-anchor="middle" fill="#222">**</text>
<line x1="180.4" y1="380" x2="185.6" y2="380" stroke="#2a2a2a" stroke-width="0.95" stroke-linecap="butt"/>
<text x="183" y="380.85" font-size="5.2" text-anchor="middle" fill="#222">***</text>
<line x1="197.4" y1="356" x2="205.4" y2="356" stroke="#161616" stroke-width="1.1" stroke-linecap="butt"/>
<text x="201.4" y="356.85" font-size="5.2" text-anchor="middle" fill="#222">*</text>
<line x1="196.6" y1="362.6" x2="202" y2="362.6" stroke="#2a2a2a" stroke-width="0.95" stroke-linecap="butt"/>
<text x="199.3" y="363.45" font-size="5.2" text-anchor="middle" fill="#222">***</text>
<text x="176.2" y="342.3" font-size="5.2" text-anchor="middle" fill="#2b2b2b">d7</text>
<line x1="220.33" y1="391.6" x2="220.33" y2="393.2" stroke="#111" stroke-width="0.8" stroke-linecap="butt"/>
<line x1="219.13" y1="391.7" x2="221.53" y2="391.7" stroke="#111" stroke-width="0.95" stroke-linecap="butt"/>
<rect x="218.4" y="393" width="3.85" height="9.7" fill="#b00a32"/>
<line x1="224.28" y1="390.4" x2="224.28" y2="391.6" stroke="#111" stroke-width="0.8" stroke-linecap="butt"/>
<line x1="223.08" y1="390.5" x2="225.47" y2="390.5" stroke="#111" stroke-width="0.95" stroke-linecap="butt"/>
<rect x="222.35" y="391.4" width="3.85" height="11.3" fill="#204287"/>
<line x1="228.23" y1="387" x2="228.23" y2="390.2" stroke="#111" stroke-width="0.8" stroke-linecap="butt"/>
<line x1="227.03" y1="387.1" x2="229.43" y2="387.1" stroke="#111" stroke-width="0.95" stroke-linecap="butt"/>
<rect x="226.3" y="390" width="3.85" height="12.7" fill="#59a636"/>
<line x1="236.12" y1="383.6" x2="236.12" y2="385.2" stroke="#111" stroke-width="0.8" stroke-linecap="butt"/>
<line x1="234.93" y1="383.7" x2="237.32" y2="383.7" stroke="#111" stroke-width="0.95" stroke-linecap="butt"/>
<rect x="234.2" y="385" width="3.85" height="17.7" fill="#b00a32"/>
<line x1="240.07" y1="387" x2="240.07" y2="389.8" stroke="#111" stroke-width="0.8" stroke-linecap="butt"/>
<line x1="238.88" y1="387.1" x2="241.27" y2="387.1" stroke="#111" stroke-width="0.95" stroke-linecap="butt"/>
<rect x="238.15" y="389.6" width="3.85" height="13.1" fill="#204287"/>
<line x1="244.03" y1="387.4" x2="244.03" y2="390.2" stroke="#111" stroke-width="0.8" stroke-linecap="butt"/>
<line x1="242.83" y1="387.5" x2="245.22" y2="387.5" stroke="#111" stroke-width="0.95" stroke-linecap="butt"/>
<rect x="242.1" y="390" width="3.85" height="12.7" fill="#59a636"/>
<line x1="252.12" y1="369" x2="252.12" y2="373.6" stroke="#111" stroke-width="0.8" stroke-linecap="butt"/>
<line x1="250.93" y1="369.1" x2="253.32" y2="369.1" stroke="#111" stroke-width="0.95" stroke-linecap="butt"/>
<rect x="250.2" y="373.4" width="3.85" height="29.3" fill="#b00a32"/>
<line x1="256.07" y1="384" x2="256.07" y2="386.6" stroke="#111" stroke-width="0.8" stroke-linecap="butt"/>
<line x1="254.88" y1="384.1" x2="257.27" y2="384.1" stroke="#111" stroke-width="0.95" stroke-linecap="butt"/>
<rect x="254.15" y="386.4" width="3.85" height="16.3" fill="#204287"/>
<line x1="260.02" y1="385.4" x2="260.02" y2="387.2" stroke="#111" stroke-width="0.8" stroke-linecap="butt"/>
<line x1="258.82" y1="385.5" x2="261.22" y2="385.5" stroke="#111" stroke-width="0.95" stroke-linecap="butt"/>
<rect x="258.1" y="387" width="3.85" height="15.7" fill="#59a636"/>
<line x1="267.93" y1="364.6" x2="267.93" y2="367.2" stroke="#111" stroke-width="0.8" stroke-linecap="butt"/>
<line x1="266.73" y1="364.7" x2="269.12" y2="364.7" stroke="#111" stroke-width="0.95" stroke-linecap="butt"/>
<rect x="266" y="367" width="3.85" height="35.7" fill="#b00a32"/>
<line x1="271.88" y1="370.6" x2="271.88" y2="375.2" stroke="#111" stroke-width="0.8" stroke-linecap="butt"/>
<line x1="270.68" y1="370.7" x2="273.07" y2="370.7" stroke="#111" stroke-width="0.95" stroke-linecap="butt"/>
<rect x="269.95" y="375" width="3.85" height="27.7" fill="#204287"/>
<line x1="275.82" y1="380" x2="275.82" y2="382.6" stroke="#111" stroke-width="0.8" stroke-linecap="butt"/>
<line x1="274.62" y1="380.1" x2="277.02" y2="380.1" stroke="#111" stroke-width="0.95" stroke-linecap="butt"/>
<rect x="273.9" y="382.4" width="3.85" height="20.3" fill="#59a636"/>
<line x1="216" y1="343.5" x2="216" y2="403.22" stroke="#000" stroke-width="1.05" stroke-linecap="butt"/>
<line x1="215.47" y1="402.7" x2="279.6" y2="402.7" stroke="#000" stroke-width="1.05" stroke-linecap="butt"/>
<line x1="213.07" y1="346.3" x2="216" y2="346.3" stroke="#000" stroke-width="0.95" stroke-linecap="butt"/>
<line x1="213.07" y1="365.1" x2="216" y2="365.1" stroke="#000" stroke-width="0.95" stroke-linecap="butt"/>
<line x1="213.07" y1="383.9" x2="216" y2="383.9" stroke="#000" stroke-width="0.95" stroke-linecap="butt"/>
<line x1="213.07" y1="402.7" x2="216" y2="402.7" stroke="#000" stroke-width="0.95" stroke-linecap="butt"/>
<line x1="224" y1="402.7" x2="224" y2="405.62" stroke="#000" stroke-width="0.95" stroke-linecap="butt"/>
<text x="224" y="413" font-size="5.1" text-anchor="middle" fill="#2b2b2b">0</text>
<line x1="239.6" y1="402.7" x2="239.6" y2="405.62" stroke="#000" stroke-width="0.95" stroke-linecap="butt"/>
<text x="239.6" y="413" font-size="5.1" text-anchor="middle" fill="#2b2b2b">9.3</text>
<line x1="255.6" y1="402.7" x2="255.6" y2="405.62" stroke="#000" stroke-width="0.95" stroke-linecap="butt"/>
<text x="255.6" y="413" font-size="5.1" text-anchor="middle" fill="#2b2b2b">18.7</text>
<line x1="271.6" y1="402.7" x2="271.6" y2="405.62" stroke="#000" stroke-width="0.95" stroke-linecap="butt"/>
<text x="271.6" y="413" font-size="5.1" text-anchor="middle" fill="#2b2b2b">37.4</text>
<line x1="236" y1="373.4" x2="244" y2="373.4" stroke="#161616" stroke-width="1.1" stroke-linecap="butt"/>
<text x="240" y="374.25" font-size="5.2" text-anchor="middle" fill="#222">*</text>
<line x1="236" y1="380" x2="239.6" y2="380" stroke="#2a2a2a" stroke-width="0.95" stroke-linecap="butt"/>
<text x="237.8" y="380.85" font-size="5.2" text-anchor="middle" fill="#222">*</text>
<line x1="252" y1="362.4" x2="260.4" y2="362.4" stroke="#161616" stroke-width="1.1" stroke-linecap="butt"/>
<text x="256.2" y="363.25" font-size="5.2" text-anchor="middle" fill="#222">**</text>
<line x1="252" y1="368" x2="256" y2="368" stroke="#2a2a2a" stroke-width="0.95" stroke-linecap="butt"/>
<text x="254" y="368.85" font-size="5.2" text-anchor="middle" fill="#222">**</text>
<line x1="268.4" y1="356.6" x2="277" y2="356.6" stroke="#161616" stroke-width="1.1" stroke-linecap="butt"/>
<text x="272.7" y="357.45" font-size="5.2" text-anchor="middle" fill="#222">***</text>
<line x1="268.4" y1="361.4" x2="272.4" y2="361.4" stroke="#2a2a2a" stroke-width="0.95" stroke-linecap="butt"/>
<text x="270.4" y="362.25" font-size="5.2" text-anchor="middle" fill="#222">*</text>
<text x="247" y="342.3" font-size="5.2" text-anchor="middle" fill="#2b2b2b">d1</text>
<line x1="291.32" y1="393.4" x2="291.32" y2="394.8" stroke="#111" stroke-width="0.8" stroke-linecap="butt"/>
<line x1="290.12" y1="393.5" x2="292.52" y2="393.5" stroke="#111" stroke-width="0.95" stroke-linecap="butt"/>
<rect x="289.4" y="394.6" width="3.85" height="8.1" fill="#b00a32"/>
<line x1="295.32" y1="391.6" x2="295.32" y2="394.2" stroke="#111" stroke-width="0.8" stroke-linecap="butt"/>
<line x1="294.12" y1="391.7" x2="296.52" y2="391.7" stroke="#111" stroke-width="0.95" stroke-linecap="butt"/>
<rect x="293.4" y="394" width="3.85" height="8.7" fill="#204287"/>
<line x1="299.32" y1="393.6" x2="299.32" y2="394.8" stroke="#111" stroke-width="0.8" stroke-linecap="butt"/>
<line x1="298.12" y1="393.7" x2="300.52" y2="393.7" stroke="#111" stroke-width="0.95" stroke-linecap="butt"/>
<rect x="297.4" y="394.6" width="3.85" height="8.1" fill="#59a636"/>
<line x1="307.12" y1="384.6" x2="307.12" y2="386.2" stroke="#111" stroke-width="0.8" stroke-linecap="butt"/>
<line x1="305.93" y1="384.7" x2="308.32" y2="384.7" stroke="#111" stroke-width="0.95" stroke-linecap="butt"/>
<rect x="305.2" y="386" width="3.85" height="16.7" fill="#b00a32"/>
<line x1="311.12" y1="392" x2="311.12" y2="393.2" stroke="#111" stroke-width="0.8" stroke-linecap="butt"/>
<line x1="309.93" y1="392.1" x2="312.32" y2="392.1" stroke="#111" stroke-width="0.95" stroke-linecap="butt"/>
<rect x="309.2" y="393" width="3.85" height="9.7" fill="#204287"/>
<line x1="315.12" y1="392.4" x2="315.12" y2="394.8" stroke="#111" stroke-width="0.8" stroke-linecap="butt"/>
<line x1="313.93" y1="392.5" x2="316.32" y2="392.5" stroke="#111" stroke-width="0.95" stroke-linecap="butt"/>
<rect x="313.2" y="394.6" width="3.85" height="8.1" fill="#59a636"/>
<line x1="323.12" y1="380.4" x2="323.12" y2="381.6" stroke="#111" stroke-width="0.8" stroke-linecap="butt"/>
<line x1="321.93" y1="380.5" x2="324.32" y2="380.5" stroke="#111" stroke-width="0.95" stroke-linecap="butt"/>
<rect x="321.2" y="381.4" width="3.85" height="21.3" fill="#b00a32"/>
<line x1="327.12" y1="394.4" x2="327.12" y2="395.6" stroke="#111" stroke-width="0.8" stroke-linecap="butt"/>
<line x1="325.93" y1="394.5" x2="328.32" y2="394.5" stroke="#111" stroke-width="0.95" stroke-linecap="butt"/>
<rect x="325.2" y="395.4" width="3.85" height="7.3" fill="#204287"/>
<line x1="331.12" y1="391" x2="331.12" y2="392.2" stroke="#111" stroke-width="0.8" stroke-linecap="butt"/>
<line x1="329.93" y1="391.1" x2="332.32" y2="391.1" stroke="#111" stroke-width="0.95" stroke-linecap="butt"/>
<rect x="329.2" y="392" width="3.85" height="10.7" fill="#59a636"/>
<line x1="338.93" y1="364.4" x2="338.93" y2="366.2" stroke="#111" stroke-width="0.8" stroke-linecap="butt"/>
<line x1="337.73" y1="364.5" x2="340.12" y2="364.5" stroke="#111" stroke-width="0.95" stroke-linecap="butt"/>
<rect x="337" y="366" width="3.85" height="36.7" fill="#b00a32"/>
<line x1="342.93" y1="383.4" x2="342.93" y2="384.2" stroke="#111" stroke-width="0.8" stroke-linecap="butt"/>
<line x1="341.73" y1="383.5" x2="344.12" y2="383.5" stroke="#111" stroke-width="0.95" stroke-linecap="butt"/>
<rect x="341" y="384" width="3.85" height="18.7" fill="#204287"/>
<line x1="346.93" y1="374.6" x2="346.93" y2="378.2" stroke="#111" stroke-width="0.8" stroke-linecap="butt"/>
<line x1="345.73" y1="374.7" x2="348.12" y2="374.7" stroke="#111" stroke-width="0.95" stroke-linecap="butt"/>
<rect x="345" y="378" width="3.85" height="24.7" fill="#59a636"/>
<line x1="286.4" y1="343.5" x2="286.4" y2="403.22" stroke="#000" stroke-width="1.05" stroke-linecap="butt"/>
<line x1="285.88" y1="402.7" x2="351" y2="402.7" stroke="#000" stroke-width="1.05" stroke-linecap="butt"/>
<line x1="283.48" y1="346.3" x2="286.4" y2="346.3" stroke="#000" stroke-width="0.95" stroke-linecap="butt"/>
<line x1="283.48" y1="365.1" x2="286.4" y2="365.1" stroke="#000" stroke-width="0.95" stroke-linecap="butt"/>
<line x1="283.48" y1="383.9" x2="286.4" y2="383.9" stroke="#000" stroke-width="0.95" stroke-linecap="butt"/>
<line x1="283.48" y1="402.7" x2="286.4" y2="402.7" stroke="#000" stroke-width="0.95" stroke-linecap="butt"/>
<line x1="295" y1="402.7" x2="295" y2="405.62" stroke="#000" stroke-width="0.95" stroke-linecap="butt"/>
<text x="295" y="413" font-size="5.1" text-anchor="middle" fill="#2b2b2b">0</text>
<line x1="310.6" y1="402.7" x2="310.6" y2="405.62" stroke="#000" stroke-width="0.95" stroke-linecap="butt"/>
<text x="310.6" y="413" font-size="5.1" text-anchor="middle" fill="#2b2b2b">9.3</text>
<line x1="326.6" y1="402.7" x2="326.6" y2="405.62" stroke="#000" stroke-width="0.95" stroke-linecap="butt"/>
<text x="326.6" y="413" font-size="5.1" text-anchor="middle" fill="#2b2b2b">18.7</text>
<line x1="342.4" y1="402.7" x2="342.4" y2="405.62" stroke="#000" stroke-width="0.95" stroke-linecap="butt"/>
<text x="342.4" y="413" font-size="5.1" text-anchor="middle" fill="#2b2b2b">37.4</text>
<line x1="307" y1="376.6" x2="315" y2="376.6" stroke="#161616" stroke-width="1.1" stroke-linecap="butt"/>
<text x="311" y="377.45" font-size="5.2" text-anchor="middle" fill="#222">*</text>
<line x1="307" y1="382" x2="310.6" y2="382" stroke="#2a2a2a" stroke-width="0.95" stroke-linecap="butt"/>
<text x="308.8" y="382.85" font-size="5.2" text-anchor="middle" fill="#222">**</text>
<line x1="323" y1="369.4" x2="331.6" y2="369.4" stroke="#161616" stroke-width="1.1" stroke-linecap="butt"/>
<text x="327.3" y="370.25" font-size="5.2" text-anchor="middle" fill="#222">***</text>
<line x1="322.4" y1="376.6" x2="327.4" y2="376.6" stroke="#2a2a2a" stroke-width="0.95" stroke-linecap="butt"/>
<text x="324.9" y="377.45" font-size="5.2" text-anchor="middle" fill="#222">***</text>
<line x1="339.4" y1="354" x2="347.6" y2="354" stroke="#161616" stroke-width="1.1" stroke-linecap="butt"/>
<text x="343.5" y="354.85" font-size="5.2" text-anchor="middle" fill="#222">*</text>
<line x1="338.6" y1="361.4" x2="343.6" y2="361.4" stroke="#2a2a2a" stroke-width="0.95" stroke-linecap="butt"/>
<text x="341.1" y="362.25" font-size="5.2" text-anchor="middle" fill="#222">***</text>
<text x="318.6" y="342.3" font-size="5.2" text-anchor="middle" fill="#2b2b2b">d7</text>
<rect x="358.4" y="364.4" width="5.4" height="3.8" fill="#59a636"/>
<text x="366" y="368" font-size="5" text-anchor="start" fill="#2b2b2b">pom</text>
<rect x="358.4" y="371.8" width="5.4" height="3.8" fill="#204287"/>
<text x="366" y="375.4" font-size="5" text-anchor="start" fill="#2b2b2b">len</text>
<rect x="358.4" y="379.1" width="5.4" height="3.8" fill="#b00a32"/>
<text x="366" y="382.7" font-size="5" text-anchor="start" fill="#2b2b2b">ctrl</text>
<text transform="translate(44.3 373.3) rotate(-90)" x="0" y="0" font-size="6.4" text-anchor="middle" fill="#262626" font-weight="bold" textLength="26.5" lengthAdjust="spacingAndGlyphs">% IL-10+ in</text>
<text transform="translate(54.3 373) rotate(-90)" x="0" y="0" font-size="6.4" text-anchor="middle" fill="#262626" font-weight="bold" textLength="21" lengthAdjust="spacingAndGlyphs">T subsets</text>
<path d="M70.3 431.3V429.1H208.4V431.3" fill="none" stroke="#222" stroke-width="1"/>
<path d="M212.6 431.3V429.1H351.4V431.3" fill="none" stroke="#222" stroke-width="1"/>
<line x1="74.62" y1="494.2" x2="74.62" y2="495" stroke="#111" stroke-width="0.8" stroke-linecap="butt"/>
<line x1="73.42" y1="494.3" x2="75.83" y2="494.3" stroke="#111" stroke-width="0.95" stroke-linecap="butt"/>
<rect x="72.7" y="494.8" width="3.85" height="1.1" fill="#b00a32"/>
<line x1="78.72" y1="494.2" x2="78.72" y2="495" stroke="#111" stroke-width="0.8" stroke-linecap="butt"/>
<line x1="77.52" y1="494.3" x2="79.92" y2="494.3" stroke="#111" stroke-width="0.95" stroke-linecap="butt"/>
<rect x="76.8" y="494.8" width="3.85" height="1.1" fill="#204287"/>
<line x1="82.83" y1="494.3" x2="82.83" y2="495.1" stroke="#111" stroke-width="0.8" stroke-linecap="butt"/>
<line x1="81.62" y1="494.4" x2="84.03" y2="494.4" stroke="#111" stroke-width="0.95" stroke-linecap="butt"/>
<rect x="80.9" y="494.9" width="3.85" height="1" fill="#59a636"/>
<line x1="91.12" y1="491.9" x2="91.12" y2="493.2" stroke="#111" stroke-width="0.8" stroke-linecap="butt"/>
<line x1="89.92" y1="492" x2="92.33" y2="492" stroke="#111" stroke-width="0.95" stroke-linecap="butt"/>
<rect x="89.2" y="493" width="3.85" height="2.9" fill="#b00a32"/>
<line x1="95.22" y1="493.8" x2="95.22" y2="494.7" stroke="#111" stroke-width="0.8" stroke-linecap="butt"/>
<line x1="94.02" y1="493.9" x2="96.42" y2="493.9" stroke="#111" stroke-width="0.95" stroke-linecap="butt"/>
<rect x="93.3" y="494.5" width="3.85" height="1.4" fill="#204287"/>
<line x1="99.33" y1="493.8" x2="99.33" y2="494.7" stroke="#111" stroke-width="0.8" stroke-linecap="butt"/>
<line x1="98.12" y1="493.9" x2="100.53" y2="493.9" stroke="#111" stroke-width="0.95" stroke-linecap="butt"/>
<rect x="97.4" y="494.5" width="3.85" height="1.4" fill="#59a636"/>
<line x1="108.02" y1="492.2" x2="108.02" y2="493" stroke="#111" stroke-width="0.8" stroke-linecap="butt"/>
<line x1="106.82" y1="492.3" x2="109.22" y2="492.3" stroke="#111" stroke-width="0.95" stroke-linecap="butt"/>
<rect x="106.1" y="492.8" width="3.85" height="3.1" fill="#b00a32"/>
<line x1="112.12" y1="493.8" x2="112.12" y2="494.7" stroke="#111" stroke-width="0.8" stroke-linecap="butt"/>
<line x1="110.92" y1="493.9" x2="113.32" y2="493.9" stroke="#111" stroke-width="0.95" stroke-linecap="butt"/>
<rect x="110.2" y="494.5" width="3.85" height="1.4" fill="#204287"/>
<line x1="116.22" y1="493.3" x2="116.22" y2="494.1" stroke="#111" stroke-width="0.8" stroke-linecap="butt"/>
<line x1="115.02" y1="493.4" x2="117.42" y2="493.4" stroke="#111" stroke-width="0.95" stroke-linecap="butt"/>
<rect x="114.3" y="493.9" width="3.85" height="2" fill="#59a636"/>
<line x1="124.62" y1="486.2" x2="124.62" y2="487.7" stroke="#111" stroke-width="0.8" stroke-linecap="butt"/>
<line x1="123.42" y1="486.3" x2="125.83" y2="486.3" stroke="#111" stroke-width="0.95" stroke-linecap="butt"/>
<rect x="122.7" y="487.5" width="3.85" height="8.4" fill="#b00a32"/>
<line x1="128.72" y1="489.5" x2="128.72" y2="490.8" stroke="#111" stroke-width="0.8" stroke-linecap="butt"/>
<line x1="127.52" y1="489.6" x2="129.92" y2="489.6" stroke="#111" stroke-width="0.95" stroke-linecap="butt"/>
<rect x="126.8" y="490.6" width="3.85" height="5.3" fill="#204287"/>
<line x1="132.83" y1="491" x2="132.83" y2="492.1" stroke="#111" stroke-width="0.8" stroke-linecap="butt"/>
<line x1="131.63" y1="491.1" x2="134.03" y2="491.1" stroke="#111" stroke-width="0.95" stroke-linecap="butt"/>
<rect x="130.9" y="491.9" width="3.85" height="4" fill="#59a636"/>
<line x1="70.3" y1="437.7" x2="70.3" y2="496.42" stroke="#000" stroke-width="1.05" stroke-linecap="butt"/>
<line x1="69.77" y1="495.9" x2="137.4" y2="495.9" stroke="#000" stroke-width="1.05" stroke-linecap="butt"/>
<line x1="67.37" y1="440.9" x2="70.3" y2="440.9" stroke="#000" stroke-width="0.95" stroke-linecap="butt"/>
<text x="63.8" y="442.7" font-size="5.1" text-anchor="end" fill="#2b2b2b">15</text>
<line x1="67.37" y1="459.2" x2="70.3" y2="459.2" stroke="#000" stroke-width="0.95" stroke-linecap="butt"/>
<text x="63.8" y="461" font-size="5.1" text-anchor="end" fill="#2b2b2b">10</text>
<line x1="67.37" y1="477.6" x2="70.3" y2="477.6" stroke="#000" stroke-width="0.95" stroke-linecap="butt"/>
<text x="63.8" y="479.4" font-size="5.1" text-anchor="end" fill="#2b2b2b">5</text>
<line x1="67.37" y1="495.9" x2="70.3" y2="495.9" stroke="#000" stroke-width="0.95" stroke-linecap="butt"/>
<text x="63.8" y="497.7" font-size="5.1" text-anchor="end" fill="#2b2b2b">0</text>
<line x1="78.2" y1="495.9" x2="78.2" y2="498.82" stroke="#000" stroke-width="0.95" stroke-linecap="butt"/>
<text x="78.2" y="506.2" font-size="5.1" text-anchor="middle" fill="#2b2b2b">0</text>
<line x1="95.1" y1="495.9" x2="95.1" y2="498.82" stroke="#000" stroke-width="0.95" stroke-linecap="butt"/>
<text x="95.1" y="506.2" font-size="5.1" text-anchor="middle" fill="#2b2b2b">9.3</text>
<line x1="111.8" y1="495.9" x2="111.8" y2="498.82" stroke="#000" stroke-width="0.95" stroke-linecap="butt"/>
<text x="111.8" y="506.2" font-size="5.1" text-anchor="middle" fill="#2b2b2b">18.7</text>
<line x1="128.7" y1="495.9" x2="128.7" y2="498.82" stroke="#000" stroke-width="0.95" stroke-linecap="butt"/>
<text x="128.7" y="506.2" font-size="5.1" text-anchor="middle" fill="#2b2b2b">37.4</text>
<line x1="106.7" y1="482.5" x2="114.4" y2="482.5" stroke="#161616" stroke-width="1.1" stroke-linecap="butt"/>
<text x="110.55" y="483.35" font-size="5.2" text-anchor="middle" fill="#222">*</text>
<line x1="106.7" y1="489.1" x2="110.5" y2="489.1" stroke="#2a2a2a" stroke-width="0.95" stroke-linecap="butt"/>
<text x="108.6" y="489.95" font-size="5.2" text-anchor="middle" fill="#222">***</text>
<line x1="123.6" y1="477" x2="131.3" y2="477" stroke="#161616" stroke-width="1.1" stroke-linecap="butt"/>
<text x="127.45" y="477.85" font-size="5.2" text-anchor="middle" fill="#222">**</text>
<line x1="123.6" y1="482.9" x2="127.1" y2="482.9" stroke="#2a2a2a" stroke-width="0.95" stroke-linecap="butt"/>
<text x="125.35" y="483.75" font-size="5.2" text-anchor="middle" fill="#222">*</text>
<text x="102.6" y="437.1" font-size="5.2" text-anchor="middle" fill="#2b2b2b">d1</text>
<line x1="149.33" y1="491.6" x2="149.33" y2="493.2" stroke="#111" stroke-width="0.8" stroke-linecap="butt"/>
<line x1="148.13" y1="491.7" x2="150.53" y2="491.7" stroke="#111" stroke-width="0.95" stroke-linecap="butt"/>
<rect x="147.4" y="493" width="3.85" height="2.9" fill="#b00a32"/>
<line x1="153.33" y1="492.6" x2="153.33" y2="493.8" stroke="#111" stroke-width="0.8" stroke-linecap="butt"/>
<line x1="152.13" y1="492.7" x2="154.53" y2="492.7" stroke="#111" stroke-width="0.95" stroke-linecap="butt"/>
<rect x="151.4" y="493.6" width="3.85" height="2.3" fill="#204287"/>
<line x1="157.33" y1="492.2" x2="157.33" y2="493.2" stroke="#111" stroke-width="0.8" stroke-linecap="butt"/>
<line x1="156.13" y1="492.3" x2="158.53" y2="492.3" stroke="#111" stroke-width="0.95" stroke-linecap="butt"/>
<rect x="155.4" y="493" width="3.85" height="2.9" fill="#59a636"/>
<line x1="165.12" y1="485.6" x2="165.12" y2="487.2" stroke="#111" stroke-width="0.8" stroke-linecap="butt"/>
<line x1="163.93" y1="485.7" x2="166.32" y2="485.7" stroke="#111" stroke-width="0.95" stroke-linecap="butt"/>
<rect x="163.2" y="487" width="3.85" height="8.9" fill="#b00a32"/>
<line x1="169.12" y1="492.6" x2="169.12" y2="493.6" stroke="#111" stroke-width="0.8" stroke-linecap="butt"/>
<line x1="167.93" y1="492.7" x2="170.32" y2="492.7" stroke="#111" stroke-width="0.95" stroke-linecap="butt"/>
<rect x="167.2" y="493.4" width="3.85" height="2.5" fill="#204287"/>
<line x1="173.12" y1="488.4" x2="173.12" y2="489.6" stroke="#111" stroke-width="0.8" stroke-linecap="butt"/>
<line x1="171.93" y1="488.5" x2="174.32" y2="488.5" stroke="#111" stroke-width="0.95" stroke-linecap="butt"/>
<rect x="171.2" y="489.4" width="3.85" height="6.5" fill="#59a636"/>
<line x1="181.12" y1="479" x2="181.12" y2="480.6" stroke="#111" stroke-width="0.8" stroke-linecap="butt"/>
<line x1="179.93" y1="479.1" x2="182.32" y2="479.1" stroke="#111" stroke-width="0.95" stroke-linecap="butt"/>
<rect x="179.2" y="480.4" width="3.85" height="15.5" fill="#b00a32"/>
<line x1="185.12" y1="489.4" x2="185.12" y2="490.6" stroke="#111" stroke-width="0.8" stroke-linecap="butt"/>
<line x1="183.93" y1="489.5" x2="186.32" y2="489.5" stroke="#111" stroke-width="0.95" stroke-linecap="butt"/>
<rect x="183.2" y="490.4" width="3.85" height="5.5" fill="#204287"/>
<line x1="189.12" y1="485.6" x2="189.12" y2="486.6" stroke="#111" stroke-width="0.8" stroke-linecap="butt"/>
<line x1="187.93" y1="485.7" x2="190.32" y2="485.7" stroke="#111" stroke-width="0.95" stroke-linecap="butt"/>
<rect x="187.2" y="486.4" width="3.85" height="9.5" fill="#59a636"/>
<line x1="196.93" y1="458" x2="196.93" y2="460.2" stroke="#111" stroke-width="0.8" stroke-linecap="butt"/>
<line x1="195.73" y1="458.1" x2="198.12" y2="458.1" stroke="#111" stroke-width="0.95" stroke-linecap="butt"/>
<rect x="195" y="460" width="3.85" height="35.9" fill="#b00a32"/>
<line x1="200.93" y1="483.6" x2="200.93" y2="485.2" stroke="#111" stroke-width="0.8" stroke-linecap="butt"/>
<line x1="199.73" y1="483.7" x2="202.12" y2="483.7" stroke="#111" stroke-width="0.95" stroke-linecap="butt"/>
<rect x="199" y="485" width="3.85" height="10.9" fill="#204287"/>
<line x1="204.93" y1="468" x2="204.93" y2="470.6" stroke="#111" stroke-width="0.8" stroke-linecap="butt"/>
<line x1="203.73" y1="468.1" x2="206.12" y2="468.1" stroke="#111" stroke-width="0.95" stroke-linecap="butt"/>
<rect x="203" y="470.4" width="3.85" height="25.5" fill="#59a636"/>
<line x1="145" y1="437.7" x2="145" y2="496.42" stroke="#000" stroke-width="1.05" stroke-linecap="butt"/>
<line x1="144.47" y1="495.9" x2="208.6" y2="495.9" stroke="#000" stroke-width="1.05" stroke-linecap="butt"/>
<line x1="142.07" y1="440.9" x2="145" y2="440.9" stroke="#000" stroke-width="0.95" stroke-linecap="butt"/>
<line x1="142.07" y1="459.2" x2="145" y2="459.2" stroke="#000" stroke-width="0.95" stroke-linecap="butt"/>
<line x1="142.07" y1="477.6" x2="145" y2="477.6" stroke="#000" stroke-width="0.95" stroke-linecap="butt"/>
<line x1="142.07" y1="495.9" x2="145" y2="495.9" stroke="#000" stroke-width="0.95" stroke-linecap="butt"/>
<line x1="153" y1="495.9" x2="153" y2="498.82" stroke="#000" stroke-width="0.95" stroke-linecap="butt"/>
<text x="153" y="506.2" font-size="5.1" text-anchor="middle" fill="#2b2b2b">0</text>
<line x1="168.6" y1="495.9" x2="168.6" y2="498.82" stroke="#000" stroke-width="0.95" stroke-linecap="butt"/>
<text x="168.6" y="506.2" font-size="5.1" text-anchor="middle" fill="#2b2b2b">9.3</text>
<line x1="184.6" y1="495.9" x2="184.6" y2="498.82" stroke="#000" stroke-width="0.95" stroke-linecap="butt"/>
<text x="184.6" y="506.2" font-size="5.1" text-anchor="middle" fill="#2b2b2b">18.7</text>
<line x1="200.6" y1="495.9" x2="200.6" y2="498.82" stroke="#000" stroke-width="0.95" stroke-linecap="butt"/>
<text x="200.6" y="506.2" font-size="5.1" text-anchor="middle" fill="#2b2b2b">37.4</text>
<line x1="181" y1="469" x2="189" y2="469" stroke="#161616" stroke-width="1.1" stroke-linecap="butt"/>
<text x="185" y="469.85" font-size="5.2" text-anchor="middle" fill="#222">**</text>
<line x1="181" y1="476" x2="185" y2="476" stroke="#2a2a2a" stroke-width="0.95" stroke-linecap="butt"/>
<text x="183" y="476.85" font-size="5.2" text-anchor="middle" fill="#222">**</text>
<line x1="197.4" y1="447" x2="205.4" y2="447" stroke="#161616" stroke-width="1.1" stroke-linecap="butt"/>
<text x="201.4" y="447.85" font-size="5.2" text-anchor="middle" fill="#222">*</text>
<line x1="196.6" y1="453.6" x2="202" y2="453.6" stroke="#2a2a2a" stroke-width="0.95" stroke-linecap="butt"/>
<text x="199.3" y="454.45" font-size="5.2" text-anchor="middle" fill="#222">***</text>
<text x="176.2" y="437.1" font-size="5.2" text-anchor="middle" fill="#2b2b2b">d7</text>
<line x1="220.33" y1="493.6" x2="220.33" y2="494.8" stroke="#111" stroke-width="0.8" stroke-linecap="butt"/>
<line x1="219.13" y1="493.7" x2="221.53" y2="493.7" stroke="#111" stroke-width="0.95" stroke-linecap="butt"/>
<rect x="218.4" y="494.6" width="3.85" height="1.3" fill="#b00a32"/>
<line x1="224.28" y1="494.6" x2="224.28" y2="495.6" stroke="#111" stroke-width="0.8" stroke-linecap="butt"/>
<line x1="223.08" y1="494.7" x2="225.47" y2="494.7" stroke="#111" stroke-width="0.95" stroke-linecap="butt"/>
<rect x="222.35" y="495.4" width="3.85" height="0.5" fill="#204287"/>
<rect x="226.3" y="495.6" width="3.85" height="0.3" fill="#59a636"/>
<line x1="236.12" y1="492" x2="236.12" y2="493.2" stroke="#111" stroke-width="0.8" stroke-linecap="butt"/>
<line x1="234.93" y1="492.1" x2="237.32" y2="492.1" stroke="#111" stroke-width="0.95" stroke-linecap="butt"/>
<rect x="234.2" y="493" width="3.85" height="2.9" fill="#b00a32"/>
<line x1="240.07" y1="492.6" x2="240.07" y2="493.6" stroke="#111" stroke-width="0.8" stroke-linecap="butt"/>
<line x1="238.88" y1="492.7" x2="241.27" y2="492.7" stroke="#111" stroke-width="0.95" stroke-linecap="butt"/>
<rect x="238.15" y="493.4" width="3.85" height="2.5" fill="#204287"/>
<line x1="244.03" y1="491.6" x2="244.03" y2="492.8" stroke="#111" stroke-width="0.8" stroke-linecap="butt"/>
<line x1="242.83" y1="491.7" x2="245.22" y2="491.7" stroke="#111" stroke-width="0.95" stroke-linecap="butt"/>
<rect x="242.1" y="492.6" width="3.85" height="3.3" fill="#59a636"/>
<line x1="252.12" y1="490" x2="252.12" y2="491.2" stroke="#111" stroke-width="0.8" stroke-linecap="butt"/>
<line x1="250.93" y1="490.1" x2="253.32" y2="490.1" stroke="#111" stroke-width="0.95" stroke-linecap="butt"/>
<rect x="250.2" y="491" width="3.85" height="4.9" fill="#b00a32"/>
<line x1="256.07" y1="493" x2="256.07" y2="494.2" stroke="#111" stroke-width="0.8" stroke-linecap="butt"/>
<line x1="254.88" y1="493.1" x2="257.27" y2="493.1" stroke="#111" stroke-width="0.95" stroke-linecap="butt"/>
<rect x="254.15" y="494" width="3.85" height="1.9" fill="#204287"/>
<line x1="260.02" y1="492.4" x2="260.02" y2="493.6" stroke="#111" stroke-width="0.8" stroke-linecap="butt"/>
<line x1="258.82" y1="492.5" x2="261.22" y2="492.5" stroke="#111" stroke-width="0.95" stroke-linecap="butt"/>
<rect x="258.1" y="493.4" width="3.85" height="2.5" fill="#59a636"/>
<line x1="267.93" y1="486.6" x2="267.93" y2="488.2" stroke="#111" stroke-width="0.8" stroke-linecap="butt"/>
<line x1="266.73" y1="486.7" x2="269.12" y2="486.7" stroke="#111" stroke-width="0.95" stroke-linecap="butt"/>
<rect x="266" y="488" width="3.85" height="7.9" fill="#b00a32"/>
<line x1="271.88" y1="491.6" x2="271.88" y2="493.2" stroke="#111" stroke-width="0.8" stroke-linecap="butt"/>
<line x1="270.68" y1="491.7" x2="273.07" y2="491.7" stroke="#111" stroke-width="0.95" stroke-linecap="butt"/>
<rect x="269.95" y="493" width="3.85" height="2.9" fill="#204287"/>
<line x1="275.82" y1="490.4" x2="275.82" y2="492.6" stroke="#111" stroke-width="0.8" stroke-linecap="butt"/>
<line x1="274.62" y1="490.5" x2="277.02" y2="490.5" stroke="#111" stroke-width="0.95" stroke-linecap="butt"/>
<rect x="273.9" y="492.4" width="3.85" height="3.5" fill="#59a636"/>
<line x1="216" y1="437.7" x2="216" y2="496.42" stroke="#000" stroke-width="1.05" stroke-linecap="butt"/>
<line x1="215.47" y1="495.9" x2="279.6" y2="495.9" stroke="#000" stroke-width="1.05" stroke-linecap="butt"/>
<line x1="213.07" y1="440.9" x2="216" y2="440.9" stroke="#000" stroke-width="0.95" stroke-linecap="butt"/>
<line x1="213.07" y1="459.2" x2="216" y2="459.2" stroke="#000" stroke-width="0.95" stroke-linecap="butt"/>
<line x1="213.07" y1="477.6" x2="216" y2="477.6" stroke="#000" stroke-width="0.95" stroke-linecap="butt"/>
<line x1="213.07" y1="495.9" x2="216" y2="495.9" stroke="#000" stroke-width="0.95" stroke-linecap="butt"/>
<line x1="224" y1="495.9" x2="224" y2="498.82" stroke="#000" stroke-width="0.95" stroke-linecap="butt"/>
<text x="224" y="506.2" font-size="5.1" text-anchor="middle" fill="#2b2b2b">0</text>
<line x1="239.6" y1="495.9" x2="239.6" y2="498.82" stroke="#000" stroke-width="0.95" stroke-linecap="butt"/>
<text x="239.6" y="506.2" font-size="5.1" text-anchor="middle" fill="#2b2b2b">9.3</text>
<line x1="255.6" y1="495.9" x2="255.6" y2="498.82" stroke="#000" stroke-width="0.95" stroke-linecap="butt"/>
<text x="255.6" y="506.2" font-size="5.1" text-anchor="middle" fill="#2b2b2b">18.7</text>
<line x1="271.6" y1="495.9" x2="271.6" y2="498.82" stroke="#000" stroke-width="0.95" stroke-linecap="butt"/>
<text x="271.6" y="506.2" font-size="5.1" text-anchor="middle" fill="#2b2b2b">37.4</text>
<line x1="252.4" y1="481.4" x2="260.4" y2="481.4" stroke="#161616" stroke-width="1.1" stroke-linecap="butt"/>
<text x="256.4" y="482.25" font-size="5.2" text-anchor="middle" fill="#222">*</text>
<line x1="252.4" y1="488" x2="256" y2="488" stroke="#2a2a2a" stroke-width="0.95" stroke-linecap="butt"/>
<text x="254.2" y="488.85" font-size="5.2" text-anchor="middle" fill="#222">*</text>
<line x1="268.4" y1="477.4" x2="276.6" y2="477.4" stroke="#161616" stroke-width="1.1" stroke-linecap="butt"/>
<text x="272.5" y="478.25" font-size="5.2" text-anchor="middle" fill="#222">*</text>
<line x1="268.4" y1="482" x2="272.4" y2="482" stroke="#2a2a2a" stroke-width="0.95" stroke-linecap="butt"/>
<text x="270.4" y="482.85" font-size="5.2" text-anchor="middle" fill="#222">*</text>
<text x="247" y="437.1" font-size="5.2" text-anchor="middle" fill="#2b2b2b">d1</text>
<line x1="291.32" y1="493" x2="291.32" y2="494.6" stroke="#111" stroke-width="0.8" stroke-linecap="butt"/>
<line x1="290.12" y1="493.1" x2="292.52" y2="493.1" stroke="#111" stroke-width="0.95" stroke-linecap="butt"/>
<rect x="289.4" y="494.4" width="3.85" height="1.5" fill="#b00a32"/>
<line x1="295.32" y1="494" x2="295.32" y2="495.6" stroke="#111" stroke-width="0.8" stroke-linecap="butt"/>
<line x1="294.12" y1="494.1" x2="296.52" y2="494.1" stroke="#111" stroke-width="0.95" stroke-linecap="butt"/>
<rect x="293.4" y="495.4" width="3.85" height="0.5" fill="#204287"/>
<line x1="299.32" y1="490" x2="299.32" y2="493.6" stroke="#111" stroke-width="0.8" stroke-linecap="butt"/>
<line x1="298.12" y1="490.1" x2="300.52" y2="490.1" stroke="#111" stroke-width="0.95" stroke-linecap="butt"/>
<rect x="297.4" y="493.4" width="3.85" height="2.5" fill="#59a636"/>
<line x1="307.12" y1="485.6" x2="307.12" y2="488.6" stroke="#111" stroke-width="0.8" stroke-linecap="butt"/>
<line x1="305.93" y1="485.7" x2="308.32" y2="485.7" stroke="#111" stroke-width="0.95" stroke-linecap="butt"/>
<rect x="305.2" y="488.4" width="3.85" height="7.5" fill="#b00a32"/>
<line x1="311.12" y1="492.6" x2="311.12" y2="493.8" stroke="#111" stroke-width="0.8" stroke-linecap="butt"/>
<line x1="309.93" y1="492.7" x2="312.32" y2="492.7" stroke="#111" stroke-width="0.95" stroke-linecap="butt"/>
<rect x="309.2" y="493.6" width="3.85" height="2.3" fill="#204287"/>
<line x1="315.12" y1="485.6" x2="315.12" y2="490.2" stroke="#111" stroke-width="0.8" stroke-linecap="butt"/>
<line x1="313.93" y1="485.7" x2="316.32" y2="485.7" stroke="#111" stroke-width="0.95" stroke-linecap="butt"/>
<rect x="313.2" y="490" width="3.85" height="5.9" fill="#59a636"/>
<line x1="323.12" y1="485.6" x2="323.12" y2="488.2" stroke="#111" stroke-width="0.8" stroke-linecap="butt"/>
<line x1="321.93" y1="485.7" x2="324.32" y2="485.7" stroke="#111" stroke-width="0.95" stroke-linecap="butt"/>
<rect x="321.2" y="488" width="3.85" height="7.9" fill="#b00a32"/>
<line x1="327.12" y1="492.6" x2="327.12" y2="494.2" stroke="#111" stroke-width="0.8" stroke-linecap="butt"/>
<line x1="325.93" y1="492.7" x2="328.32" y2="492.7" stroke="#111" stroke-width="0.95" stroke-linecap="butt"/>
<rect x="325.2" y="494" width="3.85" height="1.9" fill="#204287"/>
<line x1="331.12" y1="490.4" x2="331.12" y2="491.8" stroke="#111" stroke-width="0.8" stroke-linecap="butt"/>
<line x1="329.93" y1="490.5" x2="332.32" y2="490.5" stroke="#111" stroke-width="0.95" stroke-linecap="butt"/>
<rect x="329.2" y="491.6" width="3.85" height="4.3" fill="#59a636"/>
<line x1="338.93" y1="472" x2="338.93" y2="474.8" stroke="#111" stroke-width="0.8" stroke-linecap="butt"/>
<line x1="337.73" y1="472.1" x2="340.12" y2="472.1" stroke="#111" stroke-width="0.95" stroke-linecap="butt"/>
<rect x="337" y="474.6" width="3.85" height="21.3" fill="#b00a32"/>
<line x1="342.93" y1="488.6" x2="342.93" y2="490.6" stroke="#111" stroke-width="0.8" stroke-linecap="butt"/>
<line x1="341.73" y1="488.7" x2="344.12" y2="488.7" stroke="#111" stroke-width="0.95" stroke-linecap="butt"/>
<rect x="341" y="490.4" width="3.85" height="5.5" fill="#204287"/>
<line x1="346.93" y1="480.6" x2="346.93" y2="483.8" stroke="#111" stroke-width="0.8" stroke-linecap="butt"/>
<line x1="345.73" y1="480.7" x2="348.12" y2="480.7" stroke="#111" stroke-width="0.95" stroke-linecap="butt"/>
<rect x="345" y="483.6" width="3.85" height="12.3" fill="#59a636"/>
<line x1="286.4" y1="437.7" x2="286.4" y2="496.42" stroke="#000" stroke-width="1.05" stroke-linecap="butt"/>
<line x1="285.88" y1="495.9" x2="350.6" y2="495.9" stroke="#000" stroke-width="1.05" stroke-linecap="butt"/>
<line x1="283.48" y1="440.9" x2="286.4" y2="440.9" stroke="#000" stroke-width="0.95" stroke-linecap="butt"/>
<line x1="283.48" y1="459.2" x2="286.4" y2="459.2" stroke="#000" stroke-width="0.95" stroke-linecap="butt"/>
<line x1="283.48" y1="477.6" x2="286.4" y2="477.6" stroke="#000" stroke-width="0.95" stroke-linecap="butt"/>
<line x1="283.48" y1="495.9" x2="286.4" y2="495.9" stroke="#000" stroke-width="0.95" stroke-linecap="butt"/>
<line x1="295" y1="495.9" x2="295" y2="498.82" stroke="#000" stroke-width="0.95" stroke-linecap="butt"/>
<text x="295" y="506.2" font-size="5.1" text-anchor="middle" fill="#2b2b2b">0</text>
<line x1="310.6" y1="495.9" x2="310.6" y2="498.82" stroke="#000" stroke-width="0.95" stroke-linecap="butt"/>
<text x="310.6" y="506.2" font-size="5.1" text-anchor="middle" fill="#2b2b2b">9.3</text>
<line x1="326.6" y1="495.9" x2="326.6" y2="498.82" stroke="#000" stroke-width="0.95" stroke-linecap="butt"/>
<text x="326.6" y="506.2" font-size="5.1" text-anchor="middle" fill="#2b2b2b">18.7</text>
<line x1="342.4" y1="495.9" x2="342.4" y2="498.82" stroke="#000" stroke-width="0.95" stroke-linecap="butt"/>
<text x="342.4" y="506.2" font-size="5.1" text-anchor="middle" fill="#2b2b2b">37.4</text>
<line x1="323" y1="478.4" x2="331.6" y2="478.4" stroke="#161616" stroke-width="1.1" stroke-linecap="butt"/>
<text x="327.3" y="479.25" font-size="5.2" text-anchor="middle" fill="#222">*</text>
<line x1="323" y1="484" x2="327" y2="484" stroke="#2a2a2a" stroke-width="0.95" stroke-linecap="butt"/>
<text x="325" y="484.85" font-size="5.2" text-anchor="middle" fill="#222">**</text>
<line x1="339.4" y1="464" x2="347.6" y2="464" stroke="#161616" stroke-width="1.1" stroke-linecap="butt"/>
<text x="343.5" y="464.85" font-size="5.2" text-anchor="middle" fill="#222">**</text>
<line x1="338.6" y1="470" x2="343.6" y2="470" stroke="#2a2a2a" stroke-width="0.95" stroke-linecap="butt"/>
<text x="341.1" y="470.85" font-size="5.2" text-anchor="middle" fill="#222">***</text>
<text x="318.6" y="437.1" font-size="5.2" text-anchor="middle" fill="#2b2b2b">d7</text>
<rect x="358.4" y="457.6" width="5.4" height="3.8" fill="#59a636"/>
<text x="366" y="461.2" font-size="5" text-anchor="start" fill="#2b2b2b">pom</text>
<rect x="358.4" y="465.3" width="5.4" height="3.8" fill="#204287"/>
<text x="366" y="468.9" font-size="5" text-anchor="start" fill="#2b2b2b">len</text>
<rect x="358.4" y="472.6" width="5.4" height="3.8" fill="#b00a32"/>
<text x="366" y="476.2" font-size="5" text-anchor="start" fill="#2b2b2b">ctrl</text>
<text transform="translate(44.7 466.6) rotate(-90)" x="0" y="0" font-size="6.4" text-anchor="middle" fill="#262626" font-weight="bold" textLength="47" lengthAdjust="spacingAndGlyphs">% CD25<tspan font-size="4" dy="-2">high</tspan><tspan dy="2">FOXP3</tspan><tspan font-size="4" dy="-2">high</tspan></text>
<text transform="translate(53.6 467.2) rotate(-90)" x="0" y="0" font-size="6.4" text-anchor="middle" fill="#262626" font-weight="bold" textLength="26.3" lengthAdjust="spacingAndGlyphs">in T subsets</text>
<text x="212.3" y="516.3" font-size="6.4" text-anchor="middle" fill="#262626" font-weight="bold" textLength="33" lengthAdjust="spacingAndGlyphs">AMG 701 (pM)</text>
</svg>
</body>
</html>
